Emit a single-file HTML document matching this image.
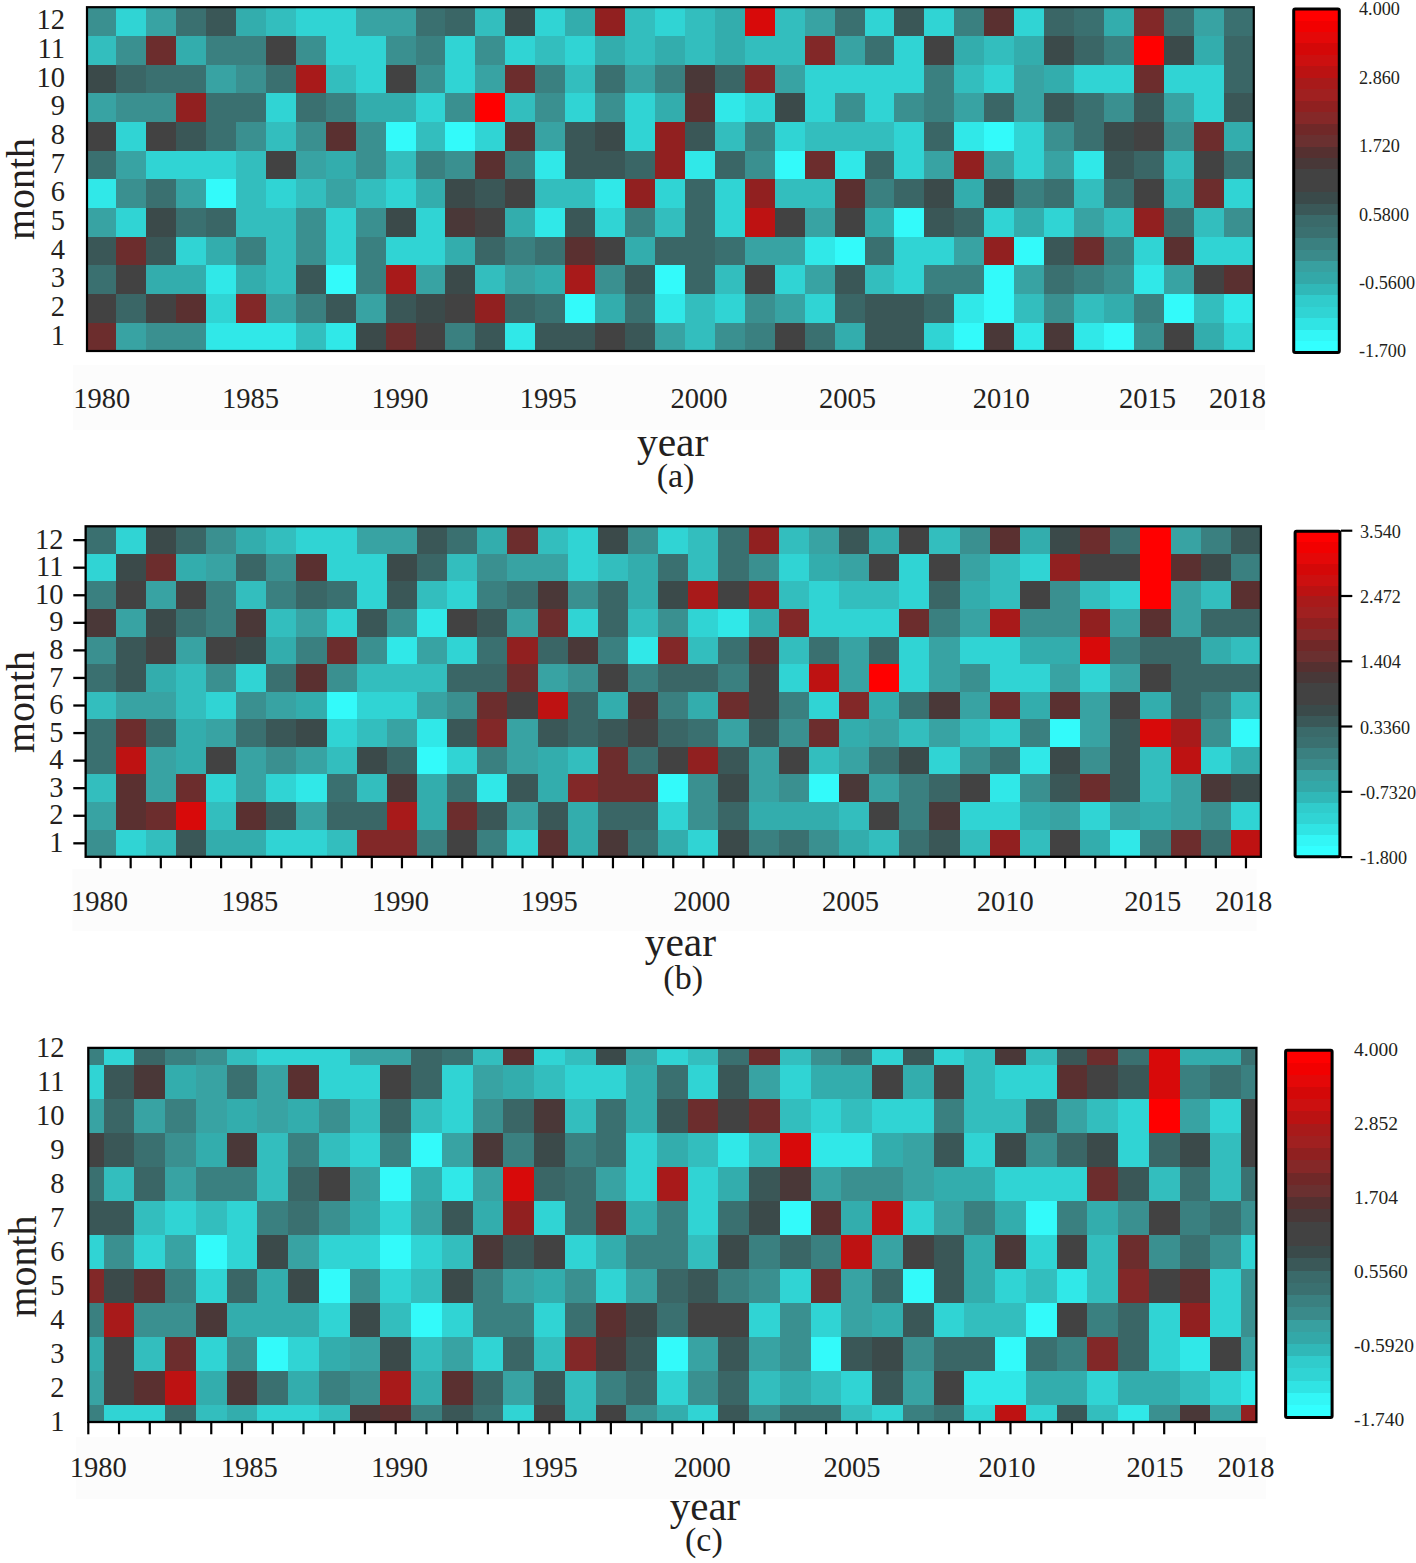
<!DOCTYPE html>
<html><head><meta charset="utf-8"><style>html,body{margin:0;padding:0;background:#fff;}body{width:1416px;height:1563px;overflow:hidden;font-family:"Liberation Serif",serif;}svg{display:block;}</style></head><body>
<svg width="1416" height="1563" viewBox="0 0 1416 1563" font-family="'Liberation Serif', serif" fill="#231f20">
<rect width="1416" height="1563" fill="#fff"/>
<rect x="73" y="365" width="1192" height="65" fill="#fcfcfc"/>
<rect x="72.5" y="869" width="1184" height="62" fill="#fcfcfc"/>
<rect x="76" y="1437" width="1190" height="62" fill="#fcfcfc"/>
<g shape-rendering="crispEdges">
<rect x="86.3" y="7.2" width="29.93" height="28.67" fill="#3a9090"/>
<rect x="116.23" y="7.2" width="29.93" height="28.67" fill="#30d4d4"/>
<rect x="146.16" y="7.2" width="29.93" height="28.67" fill="#38a3a3"/>
<rect x="176.09" y="7.2" width="29.93" height="28.67" fill="#3a7070"/>
<rect x="206.02" y="7.2" width="29.93" height="28.67" fill="#3a5757"/>
<rect x="235.95" y="7.2" width="29.93" height="28.67" fill="#33adad"/>
<rect x="265.88" y="7.2" width="29.93" height="28.67" fill="#33bebe"/>
<rect x="295.82" y="7.2" width="59.86" height="28.67" fill="#30d4d4"/>
<rect x="355.68" y="7.2" width="59.86" height="28.67" fill="#38a3a3"/>
<rect x="415.54" y="7.2" width="29.93" height="28.67" fill="#3a7070"/>
<rect x="445.47" y="7.2" width="29.93" height="28.67" fill="#3a6666"/>
<rect x="475.4" y="7.2" width="29.93" height="28.67" fill="#33bebe"/>
<rect x="505.33" y="7.2" width="29.93" height="28.67" fill="#3b4a4a"/>
<rect x="535.26" y="7.2" width="29.93" height="28.67" fill="#30d4d4"/>
<rect x="565.19" y="7.2" width="29.93" height="28.67" fill="#33adad"/>
<rect x="595.12" y="7.2" width="29.93" height="28.67" fill="#912020"/>
<rect x="625.05" y="7.2" width="29.93" height="28.67" fill="#33bebe"/>
<rect x="654.98" y="7.2" width="29.93" height="28.67" fill="#30d4d4"/>
<rect x="684.92" y="7.2" width="29.93" height="28.67" fill="#33bebe"/>
<rect x="714.85" y="7.2" width="29.93" height="28.67" fill="#33adad"/>
<rect x="744.78" y="7.2" width="29.93" height="28.67" fill="#d80a0a"/>
<rect x="774.71" y="7.2" width="29.93" height="28.67" fill="#33bebe"/>
<rect x="804.64" y="7.2" width="29.93" height="28.67" fill="#38a3a3"/>
<rect x="834.57" y="7.2" width="29.93" height="28.67" fill="#3a7070"/>
<rect x="864.5" y="7.2" width="29.93" height="28.67" fill="#30d4d4"/>
<rect x="894.43" y="7.2" width="29.93" height="28.67" fill="#3a5757"/>
<rect x="924.36" y="7.2" width="29.93" height="28.67" fill="#30d4d4"/>
<rect x="954.29" y="7.2" width="29.93" height="28.67" fill="#3a8080"/>
<rect x="984.22" y="7.2" width="29.93" height="28.67" fill="#5a3030"/>
<rect x="1014.15" y="7.2" width="29.93" height="28.67" fill="#30d4d4"/>
<rect x="1044.08" y="7.2" width="29.93" height="28.67" fill="#3a6666"/>
<rect x="1074.02" y="7.2" width="29.93" height="28.67" fill="#3a7070"/>
<rect x="1103.95" y="7.2" width="29.93" height="28.67" fill="#33adad"/>
<rect x="1133.88" y="7.2" width="29.93" height="28.67" fill="#822828"/>
<rect x="1163.81" y="7.2" width="29.93" height="28.67" fill="#3a7070"/>
<rect x="1193.74" y="7.2" width="29.93" height="28.67" fill="#38a3a3"/>
<rect x="1223.67" y="7.2" width="29.93" height="28.67" fill="#3a7070"/>
<rect x="86.3" y="35.87" width="29.93" height="28.67" fill="#33bebe"/>
<rect x="116.23" y="35.87" width="29.93" height="28.67" fill="#3a9090"/>
<rect x="146.16" y="35.87" width="29.93" height="28.67" fill="#6c2d2d"/>
<rect x="176.09" y="35.87" width="29.93" height="28.67" fill="#33adad"/>
<rect x="206.02" y="35.87" width="59.86" height="28.67" fill="#3a8080"/>
<rect x="265.88" y="35.87" width="29.93" height="28.67" fill="#424242"/>
<rect x="295.82" y="35.87" width="29.93" height="28.67" fill="#3a9090"/>
<rect x="325.75" y="35.87" width="59.86" height="28.67" fill="#30d4d4"/>
<rect x="385.61" y="35.87" width="29.93" height="28.67" fill="#3a9090"/>
<rect x="415.54" y="35.87" width="29.93" height="28.67" fill="#3a8080"/>
<rect x="445.47" y="35.87" width="29.93" height="28.67" fill="#30d4d4"/>
<rect x="475.4" y="35.87" width="29.93" height="28.67" fill="#3a9090"/>
<rect x="505.33" y="35.87" width="29.93" height="28.67" fill="#30d4d4"/>
<rect x="535.26" y="35.87" width="29.93" height="28.67" fill="#33bebe"/>
<rect x="565.19" y="35.87" width="29.93" height="28.67" fill="#30d4d4"/>
<rect x="595.12" y="35.87" width="29.93" height="28.67" fill="#33adad"/>
<rect x="625.05" y="35.87" width="29.93" height="28.67" fill="#33bebe"/>
<rect x="654.98" y="35.87" width="29.93" height="28.67" fill="#33adad"/>
<rect x="684.92" y="35.87" width="29.93" height="28.67" fill="#33bebe"/>
<rect x="714.85" y="35.87" width="29.93" height="28.67" fill="#33adad"/>
<rect x="744.78" y="35.87" width="59.86" height="28.67" fill="#33bebe"/>
<rect x="804.64" y="35.87" width="29.93" height="28.67" fill="#822828"/>
<rect x="834.57" y="35.87" width="29.93" height="28.67" fill="#38a3a3"/>
<rect x="864.5" y="35.87" width="29.93" height="28.67" fill="#3a7070"/>
<rect x="894.43" y="35.87" width="29.93" height="28.67" fill="#30d4d4"/>
<rect x="924.36" y="35.87" width="29.93" height="28.67" fill="#424242"/>
<rect x="954.29" y="35.87" width="29.93" height="28.67" fill="#33adad"/>
<rect x="984.22" y="35.87" width="29.93" height="28.67" fill="#33bebe"/>
<rect x="1014.15" y="35.87" width="29.93" height="28.67" fill="#33adad"/>
<rect x="1044.08" y="35.87" width="29.93" height="28.67" fill="#3b4a4a"/>
<rect x="1074.02" y="35.87" width="29.93" height="28.67" fill="#3a6666"/>
<rect x="1103.95" y="35.87" width="29.93" height="28.67" fill="#3a8080"/>
<rect x="1133.88" y="35.87" width="29.93" height="28.67" fill="#ff0000"/>
<rect x="1163.81" y="35.87" width="29.93" height="28.67" fill="#3b4a4a"/>
<rect x="1193.74" y="35.87" width="29.93" height="28.67" fill="#33adad"/>
<rect x="1223.67" y="35.87" width="29.93" height="28.67" fill="#3a6666"/>
<rect x="86.3" y="64.53" width="29.93" height="28.67" fill="#3b4a4a"/>
<rect x="116.23" y="64.53" width="29.93" height="28.67" fill="#3a6666"/>
<rect x="146.16" y="64.53" width="59.86" height="28.67" fill="#3a7070"/>
<rect x="206.02" y="64.53" width="29.93" height="28.67" fill="#38a3a3"/>
<rect x="235.95" y="64.53" width="29.93" height="28.67" fill="#3a9090"/>
<rect x="265.88" y="64.53" width="29.93" height="28.67" fill="#3a7070"/>
<rect x="295.82" y="64.53" width="29.93" height="28.67" fill="#a81a1a"/>
<rect x="325.75" y="64.53" width="29.93" height="28.67" fill="#33bebe"/>
<rect x="355.68" y="64.53" width="29.93" height="28.67" fill="#30d4d4"/>
<rect x="385.61" y="64.53" width="29.93" height="28.67" fill="#424242"/>
<rect x="415.54" y="64.53" width="29.93" height="28.67" fill="#3a9090"/>
<rect x="445.47" y="64.53" width="29.93" height="28.67" fill="#30d4d4"/>
<rect x="475.4" y="64.53" width="29.93" height="28.67" fill="#38a3a3"/>
<rect x="505.33" y="64.53" width="29.93" height="28.67" fill="#6c2d2d"/>
<rect x="535.26" y="64.53" width="29.93" height="28.67" fill="#3a8080"/>
<rect x="565.19" y="64.53" width="29.93" height="28.67" fill="#33bebe"/>
<rect x="595.12" y="64.53" width="29.93" height="28.67" fill="#3a7070"/>
<rect x="625.05" y="64.53" width="29.93" height="28.67" fill="#38a3a3"/>
<rect x="654.98" y="64.53" width="29.93" height="28.67" fill="#3a8080"/>
<rect x="684.92" y="64.53" width="29.93" height="28.67" fill="#4a3838"/>
<rect x="714.85" y="64.53" width="29.93" height="28.67" fill="#3a6666"/>
<rect x="744.78" y="64.53" width="29.93" height="28.67" fill="#822828"/>
<rect x="774.71" y="64.53" width="29.93" height="28.67" fill="#38a3a3"/>
<rect x="804.64" y="64.53" width="119.72" height="28.67" fill="#30d4d4"/>
<rect x="924.36" y="64.53" width="29.93" height="28.67" fill="#3a8080"/>
<rect x="954.29" y="64.53" width="29.93" height="28.67" fill="#33bebe"/>
<rect x="984.22" y="64.53" width="29.93" height="28.67" fill="#30d4d4"/>
<rect x="1014.15" y="64.53" width="29.93" height="28.67" fill="#38a3a3"/>
<rect x="1044.08" y="64.53" width="29.93" height="28.67" fill="#33adad"/>
<rect x="1074.02" y="64.53" width="59.86" height="28.67" fill="#30d4d4"/>
<rect x="1133.88" y="64.53" width="29.93" height="28.67" fill="#6c2d2d"/>
<rect x="1163.81" y="64.53" width="59.86" height="28.67" fill="#30d4d4"/>
<rect x="1223.67" y="64.53" width="29.93" height="28.67" fill="#3a6666"/>
<rect x="86.3" y="93.2" width="29.93" height="28.67" fill="#38a3a3"/>
<rect x="116.23" y="93.2" width="59.86" height="28.67" fill="#3a9090"/>
<rect x="176.09" y="93.2" width="29.93" height="28.67" fill="#912020"/>
<rect x="206.02" y="93.2" width="59.86" height="28.67" fill="#3a7070"/>
<rect x="265.88" y="93.2" width="29.93" height="28.67" fill="#30d4d4"/>
<rect x="295.82" y="93.2" width="29.93" height="28.67" fill="#3a7070"/>
<rect x="325.75" y="93.2" width="29.93" height="28.67" fill="#3a8080"/>
<rect x="355.68" y="93.2" width="59.86" height="28.67" fill="#33adad"/>
<rect x="415.54" y="93.2" width="29.93" height="28.67" fill="#30d4d4"/>
<rect x="445.47" y="93.2" width="29.93" height="28.67" fill="#3a9090"/>
<rect x="475.4" y="93.2" width="29.93" height="28.67" fill="#ff0000"/>
<rect x="505.33" y="93.2" width="29.93" height="28.67" fill="#33bebe"/>
<rect x="535.26" y="93.2" width="29.93" height="28.67" fill="#3a9090"/>
<rect x="565.19" y="93.2" width="29.93" height="28.67" fill="#30d4d4"/>
<rect x="595.12" y="93.2" width="29.93" height="28.67" fill="#3a9090"/>
<rect x="625.05" y="93.2" width="29.93" height="28.67" fill="#30d4d4"/>
<rect x="654.98" y="93.2" width="29.93" height="28.67" fill="#33adad"/>
<rect x="684.92" y="93.2" width="29.93" height="28.67" fill="#5a3030"/>
<rect x="714.85" y="93.2" width="29.93" height="28.67" fill="#30e8e8"/>
<rect x="744.78" y="93.2" width="29.93" height="28.67" fill="#30d4d4"/>
<rect x="774.71" y="93.2" width="29.93" height="28.67" fill="#3b4a4a"/>
<rect x="804.64" y="93.2" width="29.93" height="28.67" fill="#30d4d4"/>
<rect x="834.57" y="93.2" width="29.93" height="28.67" fill="#3a9090"/>
<rect x="864.5" y="93.2" width="29.93" height="28.67" fill="#30d4d4"/>
<rect x="894.43" y="93.2" width="29.93" height="28.67" fill="#3a9090"/>
<rect x="924.36" y="93.2" width="29.93" height="28.67" fill="#3a8080"/>
<rect x="954.29" y="93.2" width="29.93" height="28.67" fill="#38a3a3"/>
<rect x="984.22" y="93.2" width="29.93" height="28.67" fill="#3a6666"/>
<rect x="1014.15" y="93.2" width="29.93" height="28.67" fill="#38a3a3"/>
<rect x="1044.08" y="93.2" width="29.93" height="28.67" fill="#3a5757"/>
<rect x="1074.02" y="93.2" width="29.93" height="28.67" fill="#3a7070"/>
<rect x="1103.95" y="93.2" width="29.93" height="28.67" fill="#3a9090"/>
<rect x="1133.88" y="93.2" width="29.93" height="28.67" fill="#3a5757"/>
<rect x="1163.81" y="93.2" width="29.93" height="28.67" fill="#38a3a3"/>
<rect x="1193.74" y="93.2" width="29.93" height="28.67" fill="#30d4d4"/>
<rect x="1223.67" y="93.2" width="29.93" height="28.67" fill="#3a5757"/>
<rect x="86.3" y="121.87" width="29.93" height="28.67" fill="#424242"/>
<rect x="116.23" y="121.87" width="29.93" height="28.67" fill="#30d4d4"/>
<rect x="146.16" y="121.87" width="29.93" height="28.67" fill="#424242"/>
<rect x="176.09" y="121.87" width="29.93" height="28.67" fill="#3a5757"/>
<rect x="206.02" y="121.87" width="29.93" height="28.67" fill="#3a7070"/>
<rect x="235.95" y="121.87" width="29.93" height="28.67" fill="#3a9090"/>
<rect x="265.88" y="121.87" width="29.93" height="28.67" fill="#33bebe"/>
<rect x="295.82" y="121.87" width="29.93" height="28.67" fill="#3a9090"/>
<rect x="325.75" y="121.87" width="29.93" height="28.67" fill="#5a3030"/>
<rect x="355.68" y="121.87" width="29.93" height="28.67" fill="#3a9090"/>
<rect x="385.61" y="121.87" width="29.93" height="28.67" fill="#33fafa"/>
<rect x="415.54" y="121.87" width="29.93" height="28.67" fill="#33bebe"/>
<rect x="445.47" y="121.87" width="29.93" height="28.67" fill="#33fafa"/>
<rect x="475.4" y="121.87" width="29.93" height="28.67" fill="#30d4d4"/>
<rect x="505.33" y="121.87" width="29.93" height="28.67" fill="#5a3030"/>
<rect x="535.26" y="121.87" width="29.93" height="28.67" fill="#38a3a3"/>
<rect x="565.19" y="121.87" width="29.93" height="28.67" fill="#3a5757"/>
<rect x="595.12" y="121.87" width="29.93" height="28.67" fill="#3b4a4a"/>
<rect x="625.05" y="121.87" width="29.93" height="28.67" fill="#30d4d4"/>
<rect x="654.98" y="121.87" width="29.93" height="28.67" fill="#912020"/>
<rect x="684.92" y="121.87" width="29.93" height="28.67" fill="#3a5757"/>
<rect x="714.85" y="121.87" width="29.93" height="28.67" fill="#33bebe"/>
<rect x="744.78" y="121.87" width="29.93" height="28.67" fill="#3a8080"/>
<rect x="774.71" y="121.87" width="29.93" height="28.67" fill="#30d4d4"/>
<rect x="804.64" y="121.87" width="89.79" height="28.67" fill="#33bebe"/>
<rect x="894.43" y="121.87" width="29.93" height="28.67" fill="#30d4d4"/>
<rect x="924.36" y="121.87" width="29.93" height="28.67" fill="#3a6666"/>
<rect x="954.29" y="121.87" width="29.93" height="28.67" fill="#30e8e8"/>
<rect x="984.22" y="121.87" width="29.93" height="28.67" fill="#33fafa"/>
<rect x="1014.15" y="121.87" width="29.93" height="28.67" fill="#30d4d4"/>
<rect x="1044.08" y="121.87" width="29.93" height="28.67" fill="#3a9090"/>
<rect x="1074.02" y="121.87" width="29.93" height="28.67" fill="#3a7070"/>
<rect x="1103.95" y="121.87" width="29.93" height="28.67" fill="#3b4a4a"/>
<rect x="1133.88" y="121.87" width="29.93" height="28.67" fill="#424242"/>
<rect x="1163.81" y="121.87" width="29.93" height="28.67" fill="#3a9090"/>
<rect x="1193.74" y="121.87" width="29.93" height="28.67" fill="#6c2d2d"/>
<rect x="1223.67" y="121.87" width="29.93" height="28.67" fill="#33adad"/>
<rect x="86.3" y="150.53" width="29.93" height="28.67" fill="#3a7070"/>
<rect x="116.23" y="150.53" width="29.93" height="28.67" fill="#38a3a3"/>
<rect x="146.16" y="150.53" width="89.79" height="28.67" fill="#30d4d4"/>
<rect x="235.95" y="150.53" width="29.93" height="28.67" fill="#33bebe"/>
<rect x="265.88" y="150.53" width="29.93" height="28.67" fill="#424242"/>
<rect x="295.82" y="150.53" width="29.93" height="28.67" fill="#38a3a3"/>
<rect x="325.75" y="150.53" width="29.93" height="28.67" fill="#33adad"/>
<rect x="355.68" y="150.53" width="29.93" height="28.67" fill="#3a9090"/>
<rect x="385.61" y="150.53" width="29.93" height="28.67" fill="#33bebe"/>
<rect x="415.54" y="150.53" width="29.93" height="28.67" fill="#3a8080"/>
<rect x="445.47" y="150.53" width="29.93" height="28.67" fill="#3a9090"/>
<rect x="475.4" y="150.53" width="29.93" height="28.67" fill="#5a3030"/>
<rect x="505.33" y="150.53" width="29.93" height="28.67" fill="#3a8080"/>
<rect x="535.26" y="150.53" width="29.93" height="28.67" fill="#30e8e8"/>
<rect x="565.19" y="150.53" width="59.86" height="28.67" fill="#3a5757"/>
<rect x="625.05" y="150.53" width="29.93" height="28.67" fill="#3a6666"/>
<rect x="654.98" y="150.53" width="29.93" height="28.67" fill="#912020"/>
<rect x="684.92" y="150.53" width="29.93" height="28.67" fill="#30e8e8"/>
<rect x="714.85" y="150.53" width="29.93" height="28.67" fill="#3a6666"/>
<rect x="744.78" y="150.53" width="29.93" height="28.67" fill="#3a9090"/>
<rect x="774.71" y="150.53" width="29.93" height="28.67" fill="#33fafa"/>
<rect x="804.64" y="150.53" width="29.93" height="28.67" fill="#6c2d2d"/>
<rect x="834.57" y="150.53" width="29.93" height="28.67" fill="#30e8e8"/>
<rect x="864.5" y="150.53" width="29.93" height="28.67" fill="#3a6666"/>
<rect x="894.43" y="150.53" width="29.93" height="28.67" fill="#30d4d4"/>
<rect x="924.36" y="150.53" width="29.93" height="28.67" fill="#38a3a3"/>
<rect x="954.29" y="150.53" width="29.93" height="28.67" fill="#912020"/>
<rect x="984.22" y="150.53" width="29.93" height="28.67" fill="#38a3a3"/>
<rect x="1014.15" y="150.53" width="29.93" height="28.67" fill="#30d4d4"/>
<rect x="1044.08" y="150.53" width="29.93" height="28.67" fill="#38a3a3"/>
<rect x="1074.02" y="150.53" width="29.93" height="28.67" fill="#30e8e8"/>
<rect x="1103.95" y="150.53" width="29.93" height="28.67" fill="#3a5757"/>
<rect x="1133.88" y="150.53" width="29.93" height="28.67" fill="#3a6666"/>
<rect x="1163.81" y="150.53" width="29.93" height="28.67" fill="#33bebe"/>
<rect x="1193.74" y="150.53" width="29.93" height="28.67" fill="#424242"/>
<rect x="1223.67" y="150.53" width="29.93" height="28.67" fill="#3a7070"/>
<rect x="86.3" y="179.2" width="29.93" height="28.67" fill="#30e8e8"/>
<rect x="116.23" y="179.2" width="29.93" height="28.67" fill="#3a9090"/>
<rect x="146.16" y="179.2" width="29.93" height="28.67" fill="#3a7070"/>
<rect x="176.09" y="179.2" width="29.93" height="28.67" fill="#38a3a3"/>
<rect x="206.02" y="179.2" width="29.93" height="28.67" fill="#33fafa"/>
<rect x="235.95" y="179.2" width="29.93" height="28.67" fill="#33bebe"/>
<rect x="265.88" y="179.2" width="29.93" height="28.67" fill="#30d4d4"/>
<rect x="295.82" y="179.2" width="29.93" height="28.67" fill="#33bebe"/>
<rect x="325.75" y="179.2" width="29.93" height="28.67" fill="#38a3a3"/>
<rect x="355.68" y="179.2" width="29.93" height="28.67" fill="#33bebe"/>
<rect x="385.61" y="179.2" width="29.93" height="28.67" fill="#30d4d4"/>
<rect x="415.54" y="179.2" width="29.93" height="28.67" fill="#33adad"/>
<rect x="445.47" y="179.2" width="29.93" height="28.67" fill="#3b4a4a"/>
<rect x="475.4" y="179.2" width="29.93" height="28.67" fill="#3a5757"/>
<rect x="505.33" y="179.2" width="29.93" height="28.67" fill="#424242"/>
<rect x="535.26" y="179.2" width="59.86" height="28.67" fill="#33bebe"/>
<rect x="595.12" y="179.2" width="29.93" height="28.67" fill="#30e8e8"/>
<rect x="625.05" y="179.2" width="29.93" height="28.67" fill="#912020"/>
<rect x="654.98" y="179.2" width="29.93" height="28.67" fill="#30d4d4"/>
<rect x="684.92" y="179.2" width="29.93" height="28.67" fill="#3a6666"/>
<rect x="714.85" y="179.2" width="29.93" height="28.67" fill="#30d4d4"/>
<rect x="744.78" y="179.2" width="29.93" height="28.67" fill="#912020"/>
<rect x="774.71" y="179.2" width="59.86" height="28.67" fill="#33bebe"/>
<rect x="834.57" y="179.2" width="29.93" height="28.67" fill="#5a3030"/>
<rect x="864.5" y="179.2" width="29.93" height="28.67" fill="#3a8080"/>
<rect x="894.43" y="179.2" width="29.93" height="28.67" fill="#3a6666"/>
<rect x="924.36" y="179.2" width="29.93" height="28.67" fill="#3b4a4a"/>
<rect x="954.29" y="179.2" width="29.93" height="28.67" fill="#33adad"/>
<rect x="984.22" y="179.2" width="29.93" height="28.67" fill="#3b4a4a"/>
<rect x="1014.15" y="179.2" width="29.93" height="28.67" fill="#3a8080"/>
<rect x="1044.08" y="179.2" width="29.93" height="28.67" fill="#3a7070"/>
<rect x="1074.02" y="179.2" width="29.93" height="28.67" fill="#33bebe"/>
<rect x="1103.95" y="179.2" width="29.93" height="28.67" fill="#3a7070"/>
<rect x="1133.88" y="179.2" width="29.93" height="28.67" fill="#424242"/>
<rect x="1163.81" y="179.2" width="29.93" height="28.67" fill="#33adad"/>
<rect x="1193.74" y="179.2" width="29.93" height="28.67" fill="#6c2d2d"/>
<rect x="1223.67" y="179.2" width="29.93" height="28.67" fill="#30d4d4"/>
<rect x="86.3" y="207.87" width="29.93" height="28.67" fill="#38a3a3"/>
<rect x="116.23" y="207.87" width="29.93" height="28.67" fill="#30d4d4"/>
<rect x="146.16" y="207.87" width="29.93" height="28.67" fill="#3b4a4a"/>
<rect x="176.09" y="207.87" width="29.93" height="28.67" fill="#3a7070"/>
<rect x="206.02" y="207.87" width="29.93" height="28.67" fill="#3a6666"/>
<rect x="235.95" y="207.87" width="59.86" height="28.67" fill="#33bebe"/>
<rect x="295.82" y="207.87" width="29.93" height="28.67" fill="#3a9090"/>
<rect x="325.75" y="207.87" width="29.93" height="28.67" fill="#30d4d4"/>
<rect x="355.68" y="207.87" width="29.93" height="28.67" fill="#3a9090"/>
<rect x="385.61" y="207.87" width="29.93" height="28.67" fill="#3b4a4a"/>
<rect x="415.54" y="207.87" width="29.93" height="28.67" fill="#30d4d4"/>
<rect x="445.47" y="207.87" width="29.93" height="28.67" fill="#4a3838"/>
<rect x="475.4" y="207.87" width="29.93" height="28.67" fill="#424242"/>
<rect x="505.33" y="207.87" width="29.93" height="28.67" fill="#33adad"/>
<rect x="535.26" y="207.87" width="29.93" height="28.67" fill="#30e8e8"/>
<rect x="565.19" y="207.87" width="29.93" height="28.67" fill="#3a5757"/>
<rect x="595.12" y="207.87" width="29.93" height="28.67" fill="#30d4d4"/>
<rect x="625.05" y="207.87" width="29.93" height="28.67" fill="#3a8080"/>
<rect x="654.98" y="207.87" width="29.93" height="28.67" fill="#33bebe"/>
<rect x="684.92" y="207.87" width="29.93" height="28.67" fill="#3a6666"/>
<rect x="714.85" y="207.87" width="29.93" height="28.67" fill="#30d4d4"/>
<rect x="744.78" y="207.87" width="29.93" height="28.67" fill="#be1212"/>
<rect x="774.71" y="207.87" width="29.93" height="28.67" fill="#424242"/>
<rect x="804.64" y="207.87" width="29.93" height="28.67" fill="#38a3a3"/>
<rect x="834.57" y="207.87" width="29.93" height="28.67" fill="#424242"/>
<rect x="864.5" y="207.87" width="29.93" height="28.67" fill="#33adad"/>
<rect x="894.43" y="207.87" width="29.93" height="28.67" fill="#33fafa"/>
<rect x="924.36" y="207.87" width="29.93" height="28.67" fill="#3a5757"/>
<rect x="954.29" y="207.87" width="29.93" height="28.67" fill="#3a6666"/>
<rect x="984.22" y="207.87" width="29.93" height="28.67" fill="#30d4d4"/>
<rect x="1014.15" y="207.87" width="29.93" height="28.67" fill="#33adad"/>
<rect x="1044.08" y="207.87" width="29.93" height="28.67" fill="#30d4d4"/>
<rect x="1074.02" y="207.87" width="29.93" height="28.67" fill="#38a3a3"/>
<rect x="1103.95" y="207.87" width="29.93" height="28.67" fill="#33bebe"/>
<rect x="1133.88" y="207.87" width="29.93" height="28.67" fill="#912020"/>
<rect x="1163.81" y="207.87" width="29.93" height="28.67" fill="#3a7070"/>
<rect x="1193.74" y="207.87" width="29.93" height="28.67" fill="#33bebe"/>
<rect x="1223.67" y="207.87" width="29.93" height="28.67" fill="#3a9090"/>
<rect x="86.3" y="236.53" width="29.93" height="28.67" fill="#3a5757"/>
<rect x="116.23" y="236.53" width="29.93" height="28.67" fill="#6c2d2d"/>
<rect x="146.16" y="236.53" width="29.93" height="28.67" fill="#3a5757"/>
<rect x="176.09" y="236.53" width="29.93" height="28.67" fill="#30d4d4"/>
<rect x="206.02" y="236.53" width="29.93" height="28.67" fill="#33adad"/>
<rect x="235.95" y="236.53" width="29.93" height="28.67" fill="#3a8080"/>
<rect x="265.88" y="236.53" width="29.93" height="28.67" fill="#33bebe"/>
<rect x="295.82" y="236.53" width="29.93" height="28.67" fill="#3a9090"/>
<rect x="325.75" y="236.53" width="29.93" height="28.67" fill="#30d4d4"/>
<rect x="355.68" y="236.53" width="29.93" height="28.67" fill="#3a8080"/>
<rect x="385.61" y="236.53" width="59.86" height="28.67" fill="#30d4d4"/>
<rect x="445.47" y="236.53" width="29.93" height="28.67" fill="#33adad"/>
<rect x="475.4" y="236.53" width="29.93" height="28.67" fill="#3a6666"/>
<rect x="505.33" y="236.53" width="29.93" height="28.67" fill="#3a8080"/>
<rect x="535.26" y="236.53" width="29.93" height="28.67" fill="#3a7070"/>
<rect x="565.19" y="236.53" width="29.93" height="28.67" fill="#5a3030"/>
<rect x="595.12" y="236.53" width="29.93" height="28.67" fill="#424242"/>
<rect x="625.05" y="236.53" width="29.93" height="28.67" fill="#33adad"/>
<rect x="654.98" y="236.53" width="59.86" height="28.67" fill="#3a6666"/>
<rect x="714.85" y="236.53" width="29.93" height="28.67" fill="#3a7070"/>
<rect x="744.78" y="236.53" width="59.86" height="28.67" fill="#38a3a3"/>
<rect x="804.64" y="236.53" width="29.93" height="28.67" fill="#30e8e8"/>
<rect x="834.57" y="236.53" width="29.93" height="28.67" fill="#33fafa"/>
<rect x="864.5" y="236.53" width="29.93" height="28.67" fill="#3a7070"/>
<rect x="894.43" y="236.53" width="59.86" height="28.67" fill="#30d4d4"/>
<rect x="954.29" y="236.53" width="29.93" height="28.67" fill="#38a3a3"/>
<rect x="984.22" y="236.53" width="29.93" height="28.67" fill="#912020"/>
<rect x="1014.15" y="236.53" width="29.93" height="28.67" fill="#33fafa"/>
<rect x="1044.08" y="236.53" width="29.93" height="28.67" fill="#3a5757"/>
<rect x="1074.02" y="236.53" width="29.93" height="28.67" fill="#6c2d2d"/>
<rect x="1103.95" y="236.53" width="29.93" height="28.67" fill="#3a8080"/>
<rect x="1133.88" y="236.53" width="29.93" height="28.67" fill="#30d4d4"/>
<rect x="1163.81" y="236.53" width="29.93" height="28.67" fill="#5a3030"/>
<rect x="1193.74" y="236.53" width="59.86" height="28.67" fill="#30d4d4"/>
<rect x="86.3" y="265.2" width="29.93" height="28.67" fill="#3a7070"/>
<rect x="116.23" y="265.2" width="29.93" height="28.67" fill="#424242"/>
<rect x="146.16" y="265.2" width="59.86" height="28.67" fill="#33adad"/>
<rect x="206.02" y="265.2" width="29.93" height="28.67" fill="#30e8e8"/>
<rect x="235.95" y="265.2" width="29.93" height="28.67" fill="#33adad"/>
<rect x="265.88" y="265.2" width="29.93" height="28.67" fill="#33bebe"/>
<rect x="295.82" y="265.2" width="29.93" height="28.67" fill="#3a5757"/>
<rect x="325.75" y="265.2" width="29.93" height="28.67" fill="#33fafa"/>
<rect x="355.68" y="265.2" width="29.93" height="28.67" fill="#3a8080"/>
<rect x="385.61" y="265.2" width="29.93" height="28.67" fill="#a81a1a"/>
<rect x="415.54" y="265.2" width="29.93" height="28.67" fill="#38a3a3"/>
<rect x="445.47" y="265.2" width="29.93" height="28.67" fill="#3b4a4a"/>
<rect x="475.4" y="265.2" width="29.93" height="28.67" fill="#33bebe"/>
<rect x="505.33" y="265.2" width="29.93" height="28.67" fill="#38a3a3"/>
<rect x="535.26" y="265.2" width="29.93" height="28.67" fill="#33adad"/>
<rect x="565.19" y="265.2" width="29.93" height="28.67" fill="#a81a1a"/>
<rect x="595.12" y="265.2" width="29.93" height="28.67" fill="#3a9090"/>
<rect x="625.05" y="265.2" width="29.93" height="28.67" fill="#3a5757"/>
<rect x="654.98" y="265.2" width="29.93" height="28.67" fill="#33fafa"/>
<rect x="684.92" y="265.2" width="29.93" height="28.67" fill="#3a6666"/>
<rect x="714.85" y="265.2" width="29.93" height="28.67" fill="#33bebe"/>
<rect x="744.78" y="265.2" width="29.93" height="28.67" fill="#424242"/>
<rect x="774.71" y="265.2" width="29.93" height="28.67" fill="#30d4d4"/>
<rect x="804.64" y="265.2" width="29.93" height="28.67" fill="#38a3a3"/>
<rect x="834.57" y="265.2" width="29.93" height="28.67" fill="#3a5757"/>
<rect x="864.5" y="265.2" width="29.93" height="28.67" fill="#33bebe"/>
<rect x="894.43" y="265.2" width="29.93" height="28.67" fill="#30d4d4"/>
<rect x="924.36" y="265.2" width="59.86" height="28.67" fill="#3a8080"/>
<rect x="984.22" y="265.2" width="29.93" height="28.67" fill="#33fafa"/>
<rect x="1014.15" y="265.2" width="29.93" height="28.67" fill="#38a3a3"/>
<rect x="1044.08" y="265.2" width="29.93" height="28.67" fill="#3a7070"/>
<rect x="1074.02" y="265.2" width="29.93" height="28.67" fill="#3a8080"/>
<rect x="1103.95" y="265.2" width="29.93" height="28.67" fill="#3a9090"/>
<rect x="1133.88" y="265.2" width="29.93" height="28.67" fill="#30e8e8"/>
<rect x="1163.81" y="265.2" width="29.93" height="28.67" fill="#38a3a3"/>
<rect x="1193.74" y="265.2" width="29.93" height="28.67" fill="#424242"/>
<rect x="1223.67" y="265.2" width="29.93" height="28.67" fill="#5a3030"/>
<rect x="86.3" y="293.87" width="29.93" height="28.67" fill="#424242"/>
<rect x="116.23" y="293.87" width="29.93" height="28.67" fill="#3a6666"/>
<rect x="146.16" y="293.87" width="29.93" height="28.67" fill="#424242"/>
<rect x="176.09" y="293.87" width="29.93" height="28.67" fill="#5a3030"/>
<rect x="206.02" y="293.87" width="29.93" height="28.67" fill="#30d4d4"/>
<rect x="235.95" y="293.87" width="29.93" height="28.67" fill="#822828"/>
<rect x="265.88" y="293.87" width="29.93" height="28.67" fill="#38a3a3"/>
<rect x="295.82" y="293.87" width="29.93" height="28.67" fill="#3a8080"/>
<rect x="325.75" y="293.87" width="29.93" height="28.67" fill="#3a5757"/>
<rect x="355.68" y="293.87" width="29.93" height="28.67" fill="#38a3a3"/>
<rect x="385.61" y="293.87" width="29.93" height="28.67" fill="#3a5757"/>
<rect x="415.54" y="293.87" width="29.93" height="28.67" fill="#3b4a4a"/>
<rect x="445.47" y="293.87" width="29.93" height="28.67" fill="#424242"/>
<rect x="475.4" y="293.87" width="29.93" height="28.67" fill="#912020"/>
<rect x="505.33" y="293.87" width="29.93" height="28.67" fill="#3a6666"/>
<rect x="535.26" y="293.87" width="29.93" height="28.67" fill="#3a7070"/>
<rect x="565.19" y="293.87" width="29.93" height="28.67" fill="#33fafa"/>
<rect x="595.12" y="293.87" width="29.93" height="28.67" fill="#33adad"/>
<rect x="625.05" y="293.87" width="29.93" height="28.67" fill="#3a7070"/>
<rect x="654.98" y="293.87" width="29.93" height="28.67" fill="#30e8e8"/>
<rect x="684.92" y="293.87" width="29.93" height="28.67" fill="#33bebe"/>
<rect x="714.85" y="293.87" width="29.93" height="28.67" fill="#30d4d4"/>
<rect x="744.78" y="293.87" width="29.93" height="28.67" fill="#3a9090"/>
<rect x="774.71" y="293.87" width="29.93" height="28.67" fill="#38a3a3"/>
<rect x="804.64" y="293.87" width="29.93" height="28.67" fill="#30d4d4"/>
<rect x="834.57" y="293.87" width="29.93" height="28.67" fill="#3a6666"/>
<rect x="864.5" y="293.87" width="59.86" height="28.67" fill="#3a5757"/>
<rect x="924.36" y="293.87" width="29.93" height="28.67" fill="#3a6666"/>
<rect x="954.29" y="293.87" width="29.93" height="28.67" fill="#30e8e8"/>
<rect x="984.22" y="293.87" width="29.93" height="28.67" fill="#33fafa"/>
<rect x="1014.15" y="293.87" width="29.93" height="28.67" fill="#33bebe"/>
<rect x="1044.08" y="293.87" width="29.93" height="28.67" fill="#3a9090"/>
<rect x="1074.02" y="293.87" width="29.93" height="28.67" fill="#33bebe"/>
<rect x="1103.95" y="293.87" width="29.93" height="28.67" fill="#33adad"/>
<rect x="1133.88" y="293.87" width="29.93" height="28.67" fill="#3a8080"/>
<rect x="1163.81" y="293.87" width="29.93" height="28.67" fill="#33fafa"/>
<rect x="1193.74" y="293.87" width="29.93" height="28.67" fill="#33bebe"/>
<rect x="1223.67" y="293.87" width="29.93" height="28.67" fill="#30e8e8"/>
<rect x="86.3" y="322.53" width="29.93" height="28.67" fill="#6c2d2d"/>
<rect x="116.23" y="322.53" width="29.93" height="28.67" fill="#38a3a3"/>
<rect x="146.16" y="322.53" width="59.86" height="28.67" fill="#3a9090"/>
<rect x="206.02" y="322.53" width="89.79" height="28.67" fill="#30e8e8"/>
<rect x="295.82" y="322.53" width="29.93" height="28.67" fill="#33bebe"/>
<rect x="325.75" y="322.53" width="29.93" height="28.67" fill="#30e8e8"/>
<rect x="355.68" y="322.53" width="29.93" height="28.67" fill="#3b4a4a"/>
<rect x="385.61" y="322.53" width="29.93" height="28.67" fill="#6c2d2d"/>
<rect x="415.54" y="322.53" width="29.93" height="28.67" fill="#424242"/>
<rect x="445.47" y="322.53" width="29.93" height="28.67" fill="#3a8080"/>
<rect x="475.4" y="322.53" width="29.93" height="28.67" fill="#3a5757"/>
<rect x="505.33" y="322.53" width="29.93" height="28.67" fill="#30e8e8"/>
<rect x="535.26" y="322.53" width="59.86" height="28.67" fill="#3a5757"/>
<rect x="595.12" y="322.53" width="29.93" height="28.67" fill="#424242"/>
<rect x="625.05" y="322.53" width="29.93" height="28.67" fill="#3a5757"/>
<rect x="654.98" y="322.53" width="29.93" height="28.67" fill="#38a3a3"/>
<rect x="684.92" y="322.53" width="29.93" height="28.67" fill="#33bebe"/>
<rect x="714.85" y="322.53" width="29.93" height="28.67" fill="#3a9090"/>
<rect x="744.78" y="322.53" width="29.93" height="28.67" fill="#3a8080"/>
<rect x="774.71" y="322.53" width="29.93" height="28.67" fill="#424242"/>
<rect x="804.64" y="322.53" width="29.93" height="28.67" fill="#3a7070"/>
<rect x="834.57" y="322.53" width="29.93" height="28.67" fill="#33adad"/>
<rect x="864.5" y="322.53" width="59.86" height="28.67" fill="#3a5757"/>
<rect x="924.36" y="322.53" width="29.93" height="28.67" fill="#30d4d4"/>
<rect x="954.29" y="322.53" width="29.93" height="28.67" fill="#33fafa"/>
<rect x="984.22" y="322.53" width="29.93" height="28.67" fill="#4a3838"/>
<rect x="1014.15" y="322.53" width="29.93" height="28.67" fill="#30e8e8"/>
<rect x="1044.08" y="322.53" width="29.93" height="28.67" fill="#4a3838"/>
<rect x="1074.02" y="322.53" width="29.93" height="28.67" fill="#30e8e8"/>
<rect x="1103.95" y="322.53" width="29.93" height="28.67" fill="#33fafa"/>
<rect x="1133.88" y="322.53" width="29.93" height="28.67" fill="#3a9090"/>
<rect x="1163.81" y="322.53" width="29.93" height="28.67" fill="#424242"/>
<rect x="1193.74" y="322.53" width="29.93" height="28.67" fill="#33adad"/>
<rect x="1223.67" y="322.53" width="29.93" height="28.67" fill="#30d4d4"/>
</g>
<rect x="87" y="7.2" width="1166.8" height="343.8" fill="none" stroke="#000" stroke-width="2.2"/>
<text x="65" y="29.33" font-size="28.5" text-anchor="end">12</text>
<text x="65" y="58" font-size="28.5" text-anchor="end">11</text>
<text x="65" y="86.67" font-size="28.5" text-anchor="end">10</text>
<text x="65" y="115.33" font-size="28.5" text-anchor="end">9</text>
<text x="65" y="144" font-size="28.5" text-anchor="end">8</text>
<text x="65" y="172.67" font-size="28.5" text-anchor="end">7</text>
<text x="65" y="201.33" font-size="28.5" text-anchor="end">6</text>
<text x="65" y="230" font-size="28.5" text-anchor="end">5</text>
<text x="65" y="258.67" font-size="28.5" text-anchor="end">4</text>
<text x="65" y="287.33" font-size="28.5" text-anchor="end">3</text>
<text x="65" y="316" font-size="28.5" text-anchor="end">2</text>
<text x="65" y="344.67" font-size="28.5" text-anchor="end">1</text>
<text x="101.8" y="407.5" font-size="28.5" text-anchor="middle">1980</text>
<text x="250.5" y="407.5" font-size="28.5" text-anchor="middle">1985</text>
<text x="399.9" y="407.5" font-size="28.5" text-anchor="middle">1990</text>
<text x="548.2" y="407.5" font-size="28.5" text-anchor="middle">1995</text>
<text x="698.9" y="407.5" font-size="28.5" text-anchor="middle">2000</text>
<text x="847.4" y="407.5" font-size="28.5" text-anchor="middle">2005</text>
<text x="1001.3" y="407.5" font-size="28.5" text-anchor="middle">2010</text>
<text x="1147.5" y="407.5" font-size="28.5" text-anchor="middle">2015</text>
<text x="1237.4" y="407.5" font-size="28.5" text-anchor="middle">2018</text>
<text x="672.6" y="455.8" font-size="41.5" text-anchor="middle">year</text>
<text x="675.5" y="487" font-size="34" text-anchor="middle">(a)</text>
<text transform="translate(33.5,189) rotate(-90)" font-size="40" text-anchor="middle">month</text>
<g shape-rendering="crispEdges">
<rect x="1293.7" y="341.15" width="45.6" height="11.45" fill="#33ffff"/>
<rect x="1293.7" y="329.7" width="45.6" height="11.45" fill="#33f6f6"/>
<rect x="1293.7" y="318.25" width="45.6" height="11.45" fill="#30e4e4"/>
<rect x="1293.7" y="306.8" width="45.6" height="11.45" fill="#30d4d4"/>
<rect x="1293.7" y="295.35" width="45.6" height="11.45" fill="#30cccc"/>
<rect x="1293.7" y="283.9" width="45.6" height="11.45" fill="#30b8b8"/>
<rect x="1293.7" y="272.45" width="45.6" height="11.45" fill="#33a8a8"/>
<rect x="1293.7" y="261" width="45.6" height="11.45" fill="#38a0a0"/>
<rect x="1293.7" y="249.55" width="45.6" height="11.45" fill="#3a8a8a"/>
<rect x="1293.7" y="238.1" width="45.6" height="11.45" fill="#3a8080"/>
<rect x="1293.7" y="226.65" width="45.6" height="11.45" fill="#3a7070"/>
<rect x="1293.7" y="215.2" width="45.6" height="11.45" fill="#3a6a6a"/>
<rect x="1293.7" y="203.75" width="45.6" height="11.45" fill="#3a5858"/>
<rect x="1293.7" y="192.3" width="45.6" height="11.45" fill="#3a4a4a"/>
<rect x="1293.7" y="180.85" width="45.6" height="11.45" fill="#424242"/>
<rect x="1293.7" y="169.4" width="45.6" height="11.45" fill="#424242"/>
<rect x="1293.7" y="157.95" width="45.6" height="11.45" fill="#483838"/>
<rect x="1293.7" y="146.5" width="45.6" height="11.45" fill="#553030"/>
<rect x="1293.7" y="135.05" width="45.6" height="11.45" fill="#6a3030"/>
<rect x="1293.7" y="123.6" width="45.6" height="11.45" fill="#702828"/>
<rect x="1293.7" y="112.15" width="45.6" height="11.45" fill="#852828"/>
<rect x="1293.7" y="100.7" width="45.6" height="11.45" fill="#902020"/>
<rect x="1293.7" y="89.25" width="45.6" height="11.45" fill="#a02020"/>
<rect x="1293.7" y="77.8" width="45.6" height="11.45" fill="#a81a1a"/>
<rect x="1293.7" y="66.35" width="45.6" height="11.45" fill="#bb1212"/>
<rect x="1293.7" y="54.9" width="45.6" height="11.45" fill="#cc1010"/>
<rect x="1293.7" y="43.45" width="45.6" height="11.45" fill="#d40808"/>
<rect x="1293.7" y="32" width="45.6" height="11.45" fill="#e40808"/>
<rect x="1293.7" y="20.55" width="45.6" height="11.45" fill="#f20000"/>
<rect x="1293.7" y="9.1" width="45.6" height="11.45" fill="#ff0000"/>
</g>
<rect x="1293.7" y="9.1" width="45.6" height="343.5" rx="1.5" fill="none" stroke="#000" stroke-width="3"/>
<text x="1359" y="15.4" font-size="18.2" text-anchor="start">4.000</text>
<text x="1359" y="83.8" font-size="18.2" text-anchor="start">2.860</text>
<text x="1359" y="152.2" font-size="18.2" text-anchor="start">1.720</text>
<text x="1359" y="220.6" font-size="18.2" text-anchor="start">0.5800</text>
<text x="1359" y="289" font-size="18.2" text-anchor="start">-0.5600</text>
<text x="1359" y="357.4" font-size="18.2" text-anchor="start">-1.700</text>
<g shape-rendering="crispEdges">
<rect x="85.46" y="526.35" width="30.14" height="27.56" fill="#3a7070"/>
<rect x="115.6" y="526.35" width="30.14" height="27.56" fill="#30d4d4"/>
<rect x="145.75" y="526.35" width="30.14" height="27.56" fill="#3b4a4a"/>
<rect x="175.89" y="526.35" width="30.14" height="27.56" fill="#3a6666"/>
<rect x="206.03" y="526.35" width="30.14" height="27.56" fill="#3a9090"/>
<rect x="236.18" y="526.35" width="30.14" height="27.56" fill="#33adad"/>
<rect x="266.32" y="526.35" width="30.14" height="27.56" fill="#33bebe"/>
<rect x="296.46" y="526.35" width="60.29" height="27.56" fill="#30d4d4"/>
<rect x="356.75" y="526.35" width="60.29" height="27.56" fill="#38a3a3"/>
<rect x="417.03" y="526.35" width="30.14" height="27.56" fill="#3a5757"/>
<rect x="447.18" y="526.35" width="30.14" height="27.56" fill="#3a7070"/>
<rect x="477.32" y="526.35" width="30.14" height="27.56" fill="#33adad"/>
<rect x="507.46" y="526.35" width="30.14" height="27.56" fill="#6c2d2d"/>
<rect x="537.61" y="526.35" width="30.14" height="27.56" fill="#33bebe"/>
<rect x="567.75" y="526.35" width="30.14" height="27.56" fill="#30d4d4"/>
<rect x="597.89" y="526.35" width="30.14" height="27.56" fill="#3b4a4a"/>
<rect x="628.04" y="526.35" width="30.14" height="27.56" fill="#3a9090"/>
<rect x="658.18" y="526.35" width="30.14" height="27.56" fill="#30d4d4"/>
<rect x="688.32" y="526.35" width="30.14" height="27.56" fill="#33bebe"/>
<rect x="718.46" y="526.35" width="30.14" height="27.56" fill="#3a7070"/>
<rect x="748.61" y="526.35" width="30.14" height="27.56" fill="#912020"/>
<rect x="778.75" y="526.35" width="30.14" height="27.56" fill="#33bebe"/>
<rect x="808.89" y="526.35" width="30.14" height="27.56" fill="#38a3a3"/>
<rect x="839.04" y="526.35" width="30.14" height="27.56" fill="#3a5757"/>
<rect x="869.18" y="526.35" width="30.14" height="27.56" fill="#33adad"/>
<rect x="899.32" y="526.35" width="30.14" height="27.56" fill="#424242"/>
<rect x="929.47" y="526.35" width="30.14" height="27.56" fill="#33bebe"/>
<rect x="959.61" y="526.35" width="30.14" height="27.56" fill="#3a9090"/>
<rect x="989.75" y="526.35" width="30.14" height="27.56" fill="#5a3030"/>
<rect x="1019.9" y="526.35" width="30.14" height="27.56" fill="#33adad"/>
<rect x="1050.04" y="526.35" width="30.14" height="27.56" fill="#3b4a4a"/>
<rect x="1080.18" y="526.35" width="30.14" height="27.56" fill="#6c2d2d"/>
<rect x="1110.32" y="526.35" width="30.14" height="27.56" fill="#3a7070"/>
<rect x="1140.47" y="526.35" width="30.14" height="27.56" fill="#ff0000"/>
<rect x="1170.61" y="526.35" width="30.14" height="27.56" fill="#38a3a3"/>
<rect x="1200.75" y="526.35" width="30.14" height="27.56" fill="#3a8080"/>
<rect x="1230.9" y="526.35" width="30.14" height="27.56" fill="#3a5757"/>
<rect x="85.46" y="553.91" width="30.14" height="27.56" fill="#30d4d4"/>
<rect x="115.6" y="553.91" width="30.14" height="27.56" fill="#3b4a4a"/>
<rect x="145.75" y="553.91" width="30.14" height="27.56" fill="#6c2d2d"/>
<rect x="175.89" y="553.91" width="30.14" height="27.56" fill="#33adad"/>
<rect x="206.03" y="553.91" width="30.14" height="27.56" fill="#38a3a3"/>
<rect x="236.18" y="553.91" width="30.14" height="27.56" fill="#3a6666"/>
<rect x="266.32" y="553.91" width="30.14" height="27.56" fill="#3a9090"/>
<rect x="296.46" y="553.91" width="30.14" height="27.56" fill="#5a3030"/>
<rect x="326.6" y="553.91" width="60.29" height="27.56" fill="#30d4d4"/>
<rect x="386.89" y="553.91" width="30.14" height="27.56" fill="#3b4a4a"/>
<rect x="417.03" y="553.91" width="30.14" height="27.56" fill="#3a6666"/>
<rect x="447.18" y="553.91" width="30.14" height="27.56" fill="#33bebe"/>
<rect x="477.32" y="553.91" width="30.14" height="27.56" fill="#3a9090"/>
<rect x="507.46" y="553.91" width="60.29" height="27.56" fill="#38a3a3"/>
<rect x="567.75" y="553.91" width="30.14" height="27.56" fill="#30d4d4"/>
<rect x="597.89" y="553.91" width="30.14" height="27.56" fill="#33bebe"/>
<rect x="628.04" y="553.91" width="30.14" height="27.56" fill="#33adad"/>
<rect x="658.18" y="553.91" width="30.14" height="27.56" fill="#3a7070"/>
<rect x="688.32" y="553.91" width="30.14" height="27.56" fill="#33bebe"/>
<rect x="718.46" y="553.91" width="30.14" height="27.56" fill="#3a7070"/>
<rect x="748.61" y="553.91" width="30.14" height="27.56" fill="#3a9090"/>
<rect x="778.75" y="553.91" width="30.14" height="27.56" fill="#30d4d4"/>
<rect x="808.89" y="553.91" width="30.14" height="27.56" fill="#33adad"/>
<rect x="839.04" y="553.91" width="30.14" height="27.56" fill="#38a3a3"/>
<rect x="869.18" y="553.91" width="30.14" height="27.56" fill="#424242"/>
<rect x="899.32" y="553.91" width="30.14" height="27.56" fill="#30d4d4"/>
<rect x="929.47" y="553.91" width="30.14" height="27.56" fill="#424242"/>
<rect x="959.61" y="553.91" width="30.14" height="27.56" fill="#38a3a3"/>
<rect x="989.75" y="553.91" width="30.14" height="27.56" fill="#33bebe"/>
<rect x="1019.9" y="553.91" width="30.14" height="27.56" fill="#30d4d4"/>
<rect x="1050.04" y="553.91" width="30.14" height="27.56" fill="#912020"/>
<rect x="1080.18" y="553.91" width="60.29" height="27.56" fill="#424242"/>
<rect x="1140.47" y="553.91" width="30.14" height="27.56" fill="#ff0000"/>
<rect x="1170.61" y="553.91" width="30.14" height="27.56" fill="#5a3030"/>
<rect x="1200.75" y="553.91" width="30.14" height="27.56" fill="#3b4a4a"/>
<rect x="1230.9" y="553.91" width="30.14" height="27.56" fill="#3a8080"/>
<rect x="85.46" y="581.48" width="30.14" height="27.56" fill="#3a8080"/>
<rect x="115.6" y="581.48" width="30.14" height="27.56" fill="#424242"/>
<rect x="145.75" y="581.48" width="30.14" height="27.56" fill="#38a3a3"/>
<rect x="175.89" y="581.48" width="30.14" height="27.56" fill="#424242"/>
<rect x="206.03" y="581.48" width="30.14" height="27.56" fill="#3a8080"/>
<rect x="236.18" y="581.48" width="30.14" height="27.56" fill="#33bebe"/>
<rect x="266.32" y="581.48" width="30.14" height="27.56" fill="#3a8080"/>
<rect x="296.46" y="581.48" width="30.14" height="27.56" fill="#3a6666"/>
<rect x="326.6" y="581.48" width="30.14" height="27.56" fill="#3a7070"/>
<rect x="356.75" y="581.48" width="30.14" height="27.56" fill="#30d4d4"/>
<rect x="386.89" y="581.48" width="30.14" height="27.56" fill="#3a5757"/>
<rect x="417.03" y="581.48" width="30.14" height="27.56" fill="#33bebe"/>
<rect x="447.18" y="581.48" width="30.14" height="27.56" fill="#30d4d4"/>
<rect x="477.32" y="581.48" width="30.14" height="27.56" fill="#3a8080"/>
<rect x="507.46" y="581.48" width="30.14" height="27.56" fill="#3a7070"/>
<rect x="537.61" y="581.48" width="30.14" height="27.56" fill="#4a3838"/>
<rect x="567.75" y="581.48" width="30.14" height="27.56" fill="#3a9090"/>
<rect x="597.89" y="581.48" width="30.14" height="27.56" fill="#3a6666"/>
<rect x="628.04" y="581.48" width="30.14" height="27.56" fill="#33adad"/>
<rect x="658.18" y="581.48" width="30.14" height="27.56" fill="#3b4a4a"/>
<rect x="688.32" y="581.48" width="30.14" height="27.56" fill="#a81a1a"/>
<rect x="718.46" y="581.48" width="30.14" height="27.56" fill="#424242"/>
<rect x="748.61" y="581.48" width="30.14" height="27.56" fill="#912020"/>
<rect x="778.75" y="581.48" width="30.14" height="27.56" fill="#33bebe"/>
<rect x="808.89" y="581.48" width="30.14" height="27.56" fill="#30d4d4"/>
<rect x="839.04" y="581.48" width="60.29" height="27.56" fill="#33bebe"/>
<rect x="899.32" y="581.48" width="30.14" height="27.56" fill="#30d4d4"/>
<rect x="929.47" y="581.48" width="30.14" height="27.56" fill="#3a6666"/>
<rect x="959.61" y="581.48" width="30.14" height="27.56" fill="#33adad"/>
<rect x="989.75" y="581.48" width="30.14" height="27.56" fill="#33bebe"/>
<rect x="1019.9" y="581.48" width="30.14" height="27.56" fill="#424242"/>
<rect x="1050.04" y="581.48" width="30.14" height="27.56" fill="#3a9090"/>
<rect x="1080.18" y="581.48" width="30.14" height="27.56" fill="#33bebe"/>
<rect x="1110.32" y="581.48" width="30.14" height="27.56" fill="#30d4d4"/>
<rect x="1140.47" y="581.48" width="30.14" height="27.56" fill="#ff0000"/>
<rect x="1170.61" y="581.48" width="30.14" height="27.56" fill="#38a3a3"/>
<rect x="1200.75" y="581.48" width="30.14" height="27.56" fill="#33bebe"/>
<rect x="1230.9" y="581.48" width="30.14" height="27.56" fill="#5a3030"/>
<rect x="85.46" y="609.04" width="30.14" height="27.56" fill="#4a3838"/>
<rect x="115.6" y="609.04" width="30.14" height="27.56" fill="#38a3a3"/>
<rect x="145.75" y="609.04" width="30.14" height="27.56" fill="#3b4a4a"/>
<rect x="175.89" y="609.04" width="30.14" height="27.56" fill="#3a7070"/>
<rect x="206.03" y="609.04" width="30.14" height="27.56" fill="#3a8080"/>
<rect x="236.18" y="609.04" width="30.14" height="27.56" fill="#4a3838"/>
<rect x="266.32" y="609.04" width="30.14" height="27.56" fill="#33bebe"/>
<rect x="296.46" y="609.04" width="30.14" height="27.56" fill="#38a3a3"/>
<rect x="326.6" y="609.04" width="30.14" height="27.56" fill="#30d4d4"/>
<rect x="356.75" y="609.04" width="30.14" height="27.56" fill="#3a5757"/>
<rect x="386.89" y="609.04" width="30.14" height="27.56" fill="#3a9090"/>
<rect x="417.03" y="609.04" width="30.14" height="27.56" fill="#30e8e8"/>
<rect x="447.18" y="609.04" width="30.14" height="27.56" fill="#424242"/>
<rect x="477.32" y="609.04" width="30.14" height="27.56" fill="#3a5757"/>
<rect x="507.46" y="609.04" width="30.14" height="27.56" fill="#38a3a3"/>
<rect x="537.61" y="609.04" width="30.14" height="27.56" fill="#6c2d2d"/>
<rect x="567.75" y="609.04" width="30.14" height="27.56" fill="#30d4d4"/>
<rect x="597.89" y="609.04" width="30.14" height="27.56" fill="#3a6666"/>
<rect x="628.04" y="609.04" width="30.14" height="27.56" fill="#33bebe"/>
<rect x="658.18" y="609.04" width="30.14" height="27.56" fill="#3a9090"/>
<rect x="688.32" y="609.04" width="30.14" height="27.56" fill="#30d4d4"/>
<rect x="718.46" y="609.04" width="30.14" height="27.56" fill="#30e8e8"/>
<rect x="748.61" y="609.04" width="30.14" height="27.56" fill="#33adad"/>
<rect x="778.75" y="609.04" width="30.14" height="27.56" fill="#822828"/>
<rect x="808.89" y="609.04" width="90.43" height="27.56" fill="#30d4d4"/>
<rect x="899.32" y="609.04" width="30.14" height="27.56" fill="#6c2d2d"/>
<rect x="929.47" y="609.04" width="30.14" height="27.56" fill="#3a8080"/>
<rect x="959.61" y="609.04" width="30.14" height="27.56" fill="#38a3a3"/>
<rect x="989.75" y="609.04" width="30.14" height="27.56" fill="#a81a1a"/>
<rect x="1019.9" y="609.04" width="60.29" height="27.56" fill="#3a9090"/>
<rect x="1080.18" y="609.04" width="30.14" height="27.56" fill="#912020"/>
<rect x="1110.32" y="609.04" width="30.14" height="27.56" fill="#38a3a3"/>
<rect x="1140.47" y="609.04" width="30.14" height="27.56" fill="#5a3030"/>
<rect x="1170.61" y="609.04" width="30.14" height="27.56" fill="#38a3a3"/>
<rect x="1200.75" y="609.04" width="60.29" height="27.56" fill="#3a6666"/>
<rect x="85.46" y="636.6" width="30.14" height="27.56" fill="#3a9090"/>
<rect x="115.6" y="636.6" width="30.14" height="27.56" fill="#3a5757"/>
<rect x="145.75" y="636.6" width="30.14" height="27.56" fill="#424242"/>
<rect x="175.89" y="636.6" width="30.14" height="27.56" fill="#38a3a3"/>
<rect x="206.03" y="636.6" width="30.14" height="27.56" fill="#424242"/>
<rect x="236.18" y="636.6" width="30.14" height="27.56" fill="#3b4a4a"/>
<rect x="266.32" y="636.6" width="30.14" height="27.56" fill="#33adad"/>
<rect x="296.46" y="636.6" width="30.14" height="27.56" fill="#3a8080"/>
<rect x="326.6" y="636.6" width="30.14" height="27.56" fill="#6c2d2d"/>
<rect x="356.75" y="636.6" width="30.14" height="27.56" fill="#3a9090"/>
<rect x="386.89" y="636.6" width="30.14" height="27.56" fill="#30e8e8"/>
<rect x="417.03" y="636.6" width="30.14" height="27.56" fill="#38a3a3"/>
<rect x="447.18" y="636.6" width="30.14" height="27.56" fill="#30d4d4"/>
<rect x="477.32" y="636.6" width="30.14" height="27.56" fill="#3a7070"/>
<rect x="507.46" y="636.6" width="30.14" height="27.56" fill="#912020"/>
<rect x="537.61" y="636.6" width="30.14" height="27.56" fill="#3a6666"/>
<rect x="567.75" y="636.6" width="30.14" height="27.56" fill="#4a3838"/>
<rect x="597.89" y="636.6" width="30.14" height="27.56" fill="#3a8080"/>
<rect x="628.04" y="636.6" width="30.14" height="27.56" fill="#30e8e8"/>
<rect x="658.18" y="636.6" width="30.14" height="27.56" fill="#822828"/>
<rect x="688.32" y="636.6" width="30.14" height="27.56" fill="#33bebe"/>
<rect x="718.46" y="636.6" width="30.14" height="27.56" fill="#3a7070"/>
<rect x="748.61" y="636.6" width="30.14" height="27.56" fill="#5a3030"/>
<rect x="778.75" y="636.6" width="30.14" height="27.56" fill="#33bebe"/>
<rect x="808.89" y="636.6" width="30.14" height="27.56" fill="#3a7070"/>
<rect x="839.04" y="636.6" width="30.14" height="27.56" fill="#38a3a3"/>
<rect x="869.18" y="636.6" width="30.14" height="27.56" fill="#3a6666"/>
<rect x="899.32" y="636.6" width="30.14" height="27.56" fill="#30d4d4"/>
<rect x="929.47" y="636.6" width="30.14" height="27.56" fill="#38a3a3"/>
<rect x="959.61" y="636.6" width="60.29" height="27.56" fill="#30d4d4"/>
<rect x="1019.9" y="636.6" width="60.29" height="27.56" fill="#33adad"/>
<rect x="1080.18" y="636.6" width="30.14" height="27.56" fill="#d80a0a"/>
<rect x="1110.32" y="636.6" width="30.14" height="27.56" fill="#3a8080"/>
<rect x="1140.47" y="636.6" width="60.29" height="27.56" fill="#3a6666"/>
<rect x="1200.75" y="636.6" width="30.14" height="27.56" fill="#33adad"/>
<rect x="1230.9" y="636.6" width="30.14" height="27.56" fill="#33bebe"/>
<rect x="85.46" y="664.16" width="30.14" height="27.56" fill="#3a7070"/>
<rect x="115.6" y="664.16" width="30.14" height="27.56" fill="#3a5757"/>
<rect x="145.75" y="664.16" width="30.14" height="27.56" fill="#33adad"/>
<rect x="175.89" y="664.16" width="30.14" height="27.56" fill="#33bebe"/>
<rect x="206.03" y="664.16" width="30.14" height="27.56" fill="#3a9090"/>
<rect x="236.18" y="664.16" width="30.14" height="27.56" fill="#30d4d4"/>
<rect x="266.32" y="664.16" width="30.14" height="27.56" fill="#3a7070"/>
<rect x="296.46" y="664.16" width="30.14" height="27.56" fill="#5a3030"/>
<rect x="326.6" y="664.16" width="30.14" height="27.56" fill="#3a9090"/>
<rect x="356.75" y="664.16" width="90.43" height="27.56" fill="#33bebe"/>
<rect x="447.18" y="664.16" width="60.29" height="27.56" fill="#3a6666"/>
<rect x="507.46" y="664.16" width="30.14" height="27.56" fill="#6c2d2d"/>
<rect x="537.61" y="664.16" width="30.14" height="27.56" fill="#38a3a3"/>
<rect x="567.75" y="664.16" width="30.14" height="27.56" fill="#3a9090"/>
<rect x="597.89" y="664.16" width="30.14" height="27.56" fill="#424242"/>
<rect x="628.04" y="664.16" width="30.14" height="27.56" fill="#3a8080"/>
<rect x="658.18" y="664.16" width="60.29" height="27.56" fill="#3a6666"/>
<rect x="718.46" y="664.16" width="30.14" height="27.56" fill="#3a8080"/>
<rect x="748.61" y="664.16" width="30.14" height="27.56" fill="#424242"/>
<rect x="778.75" y="664.16" width="30.14" height="27.56" fill="#30d4d4"/>
<rect x="808.89" y="664.16" width="30.14" height="27.56" fill="#be1212"/>
<rect x="839.04" y="664.16" width="30.14" height="27.56" fill="#38a3a3"/>
<rect x="869.18" y="664.16" width="30.14" height="27.56" fill="#ff0000"/>
<rect x="899.32" y="664.16" width="30.14" height="27.56" fill="#30d4d4"/>
<rect x="929.47" y="664.16" width="30.14" height="27.56" fill="#38a3a3"/>
<rect x="959.61" y="664.16" width="30.14" height="27.56" fill="#3a9090"/>
<rect x="989.75" y="664.16" width="60.29" height="27.56" fill="#30d4d4"/>
<rect x="1050.04" y="664.16" width="30.14" height="27.56" fill="#38a3a3"/>
<rect x="1080.18" y="664.16" width="30.14" height="27.56" fill="#30d4d4"/>
<rect x="1110.32" y="664.16" width="30.14" height="27.56" fill="#38a3a3"/>
<rect x="1140.47" y="664.16" width="30.14" height="27.56" fill="#424242"/>
<rect x="1170.61" y="664.16" width="90.43" height="27.56" fill="#3a6666"/>
<rect x="85.46" y="691.73" width="30.14" height="27.56" fill="#33bebe"/>
<rect x="115.6" y="691.73" width="60.29" height="27.56" fill="#38a3a3"/>
<rect x="175.89" y="691.73" width="30.14" height="27.56" fill="#33bebe"/>
<rect x="206.03" y="691.73" width="30.14" height="27.56" fill="#30d4d4"/>
<rect x="236.18" y="691.73" width="30.14" height="27.56" fill="#3a9090"/>
<rect x="266.32" y="691.73" width="30.14" height="27.56" fill="#38a3a3"/>
<rect x="296.46" y="691.73" width="30.14" height="27.56" fill="#33adad"/>
<rect x="326.6" y="691.73" width="30.14" height="27.56" fill="#33fafa"/>
<rect x="356.75" y="691.73" width="60.29" height="27.56" fill="#30d4d4"/>
<rect x="417.03" y="691.73" width="30.14" height="27.56" fill="#38a3a3"/>
<rect x="447.18" y="691.73" width="30.14" height="27.56" fill="#3a9090"/>
<rect x="477.32" y="691.73" width="30.14" height="27.56" fill="#6c2d2d"/>
<rect x="507.46" y="691.73" width="30.14" height="27.56" fill="#424242"/>
<rect x="537.61" y="691.73" width="30.14" height="27.56" fill="#be1212"/>
<rect x="567.75" y="691.73" width="30.14" height="27.56" fill="#3a6666"/>
<rect x="597.89" y="691.73" width="30.14" height="27.56" fill="#33adad"/>
<rect x="628.04" y="691.73" width="30.14" height="27.56" fill="#4a3838"/>
<rect x="658.18" y="691.73" width="30.14" height="27.56" fill="#3a8080"/>
<rect x="688.32" y="691.73" width="30.14" height="27.56" fill="#33adad"/>
<rect x="718.46" y="691.73" width="30.14" height="27.56" fill="#6c2d2d"/>
<rect x="748.61" y="691.73" width="30.14" height="27.56" fill="#424242"/>
<rect x="778.75" y="691.73" width="30.14" height="27.56" fill="#3a8080"/>
<rect x="808.89" y="691.73" width="30.14" height="27.56" fill="#30d4d4"/>
<rect x="839.04" y="691.73" width="30.14" height="27.56" fill="#822828"/>
<rect x="869.18" y="691.73" width="30.14" height="27.56" fill="#33adad"/>
<rect x="899.32" y="691.73" width="30.14" height="27.56" fill="#3a7070"/>
<rect x="929.47" y="691.73" width="30.14" height="27.56" fill="#4a3838"/>
<rect x="959.61" y="691.73" width="30.14" height="27.56" fill="#38a3a3"/>
<rect x="989.75" y="691.73" width="30.14" height="27.56" fill="#6c2d2d"/>
<rect x="1019.9" y="691.73" width="30.14" height="27.56" fill="#33adad"/>
<rect x="1050.04" y="691.73" width="30.14" height="27.56" fill="#5a3030"/>
<rect x="1080.18" y="691.73" width="30.14" height="27.56" fill="#38a3a3"/>
<rect x="1110.32" y="691.73" width="30.14" height="27.56" fill="#424242"/>
<rect x="1140.47" y="691.73" width="30.14" height="27.56" fill="#33adad"/>
<rect x="1170.61" y="691.73" width="30.14" height="27.56" fill="#3a6666"/>
<rect x="1200.75" y="691.73" width="30.14" height="27.56" fill="#3a8080"/>
<rect x="1230.9" y="691.73" width="30.14" height="27.56" fill="#33bebe"/>
<rect x="85.46" y="719.29" width="30.14" height="27.56" fill="#3a7070"/>
<rect x="115.6" y="719.29" width="30.14" height="27.56" fill="#6c2d2d"/>
<rect x="145.75" y="719.29" width="30.14" height="27.56" fill="#3a6666"/>
<rect x="175.89" y="719.29" width="30.14" height="27.56" fill="#33adad"/>
<rect x="206.03" y="719.29" width="30.14" height="27.56" fill="#38a3a3"/>
<rect x="236.18" y="719.29" width="30.14" height="27.56" fill="#3a7070"/>
<rect x="266.32" y="719.29" width="30.14" height="27.56" fill="#3a5757"/>
<rect x="296.46" y="719.29" width="30.14" height="27.56" fill="#3b4a4a"/>
<rect x="326.6" y="719.29" width="30.14" height="27.56" fill="#30d4d4"/>
<rect x="356.75" y="719.29" width="30.14" height="27.56" fill="#33bebe"/>
<rect x="386.89" y="719.29" width="30.14" height="27.56" fill="#38a3a3"/>
<rect x="417.03" y="719.29" width="30.14" height="27.56" fill="#30e8e8"/>
<rect x="447.18" y="719.29" width="30.14" height="27.56" fill="#3a5757"/>
<rect x="477.32" y="719.29" width="30.14" height="27.56" fill="#822828"/>
<rect x="507.46" y="719.29" width="30.14" height="27.56" fill="#38a3a3"/>
<rect x="537.61" y="719.29" width="30.14" height="27.56" fill="#3a5757"/>
<rect x="567.75" y="719.29" width="30.14" height="27.56" fill="#3a6666"/>
<rect x="597.89" y="719.29" width="30.14" height="27.56" fill="#3a5757"/>
<rect x="628.04" y="719.29" width="30.14" height="27.56" fill="#424242"/>
<rect x="658.18" y="719.29" width="30.14" height="27.56" fill="#3a6666"/>
<rect x="688.32" y="719.29" width="30.14" height="27.56" fill="#3a7070"/>
<rect x="718.46" y="719.29" width="30.14" height="27.56" fill="#38a3a3"/>
<rect x="748.61" y="719.29" width="30.14" height="27.56" fill="#3a5757"/>
<rect x="778.75" y="719.29" width="30.14" height="27.56" fill="#3a9090"/>
<rect x="808.89" y="719.29" width="30.14" height="27.56" fill="#6c2d2d"/>
<rect x="839.04" y="719.29" width="30.14" height="27.56" fill="#33adad"/>
<rect x="869.18" y="719.29" width="30.14" height="27.56" fill="#38a3a3"/>
<rect x="899.32" y="719.29" width="30.14" height="27.56" fill="#33bebe"/>
<rect x="929.47" y="719.29" width="30.14" height="27.56" fill="#38a3a3"/>
<rect x="959.61" y="719.29" width="30.14" height="27.56" fill="#33bebe"/>
<rect x="989.75" y="719.29" width="30.14" height="27.56" fill="#30d4d4"/>
<rect x="1019.9" y="719.29" width="30.14" height="27.56" fill="#3a8080"/>
<rect x="1050.04" y="719.29" width="30.14" height="27.56" fill="#33fafa"/>
<rect x="1080.18" y="719.29" width="30.14" height="27.56" fill="#38a3a3"/>
<rect x="1110.32" y="719.29" width="30.14" height="27.56" fill="#3a5757"/>
<rect x="1140.47" y="719.29" width="30.14" height="27.56" fill="#d80a0a"/>
<rect x="1170.61" y="719.29" width="30.14" height="27.56" fill="#a81a1a"/>
<rect x="1200.75" y="719.29" width="30.14" height="27.56" fill="#3a9090"/>
<rect x="1230.9" y="719.29" width="30.14" height="27.56" fill="#33fafa"/>
<rect x="85.46" y="746.85" width="30.14" height="27.56" fill="#3a7070"/>
<rect x="115.6" y="746.85" width="30.14" height="27.56" fill="#be1212"/>
<rect x="145.75" y="746.85" width="30.14" height="27.56" fill="#38a3a3"/>
<rect x="175.89" y="746.85" width="30.14" height="27.56" fill="#33adad"/>
<rect x="206.03" y="746.85" width="30.14" height="27.56" fill="#424242"/>
<rect x="236.18" y="746.85" width="30.14" height="27.56" fill="#38a3a3"/>
<rect x="266.32" y="746.85" width="30.14" height="27.56" fill="#3a9090"/>
<rect x="296.46" y="746.85" width="30.14" height="27.56" fill="#38a3a3"/>
<rect x="326.6" y="746.85" width="30.14" height="27.56" fill="#33bebe"/>
<rect x="356.75" y="746.85" width="30.14" height="27.56" fill="#3b4a4a"/>
<rect x="386.89" y="746.85" width="30.14" height="27.56" fill="#3a6666"/>
<rect x="417.03" y="746.85" width="30.14" height="27.56" fill="#33fafa"/>
<rect x="447.18" y="746.85" width="30.14" height="27.56" fill="#30d4d4"/>
<rect x="477.32" y="746.85" width="30.14" height="27.56" fill="#3a8080"/>
<rect x="507.46" y="746.85" width="30.14" height="27.56" fill="#38a3a3"/>
<rect x="537.61" y="746.85" width="30.14" height="27.56" fill="#33adad"/>
<rect x="567.75" y="746.85" width="30.14" height="27.56" fill="#33bebe"/>
<rect x="597.89" y="746.85" width="30.14" height="27.56" fill="#6c2d2d"/>
<rect x="628.04" y="746.85" width="30.14" height="27.56" fill="#3a7070"/>
<rect x="658.18" y="746.85" width="30.14" height="27.56" fill="#424242"/>
<rect x="688.32" y="746.85" width="30.14" height="27.56" fill="#912020"/>
<rect x="718.46" y="746.85" width="30.14" height="27.56" fill="#3a5757"/>
<rect x="748.61" y="746.85" width="30.14" height="27.56" fill="#38a3a3"/>
<rect x="778.75" y="746.85" width="30.14" height="27.56" fill="#424242"/>
<rect x="808.89" y="746.85" width="30.14" height="27.56" fill="#33bebe"/>
<rect x="839.04" y="746.85" width="30.14" height="27.56" fill="#38a3a3"/>
<rect x="869.18" y="746.85" width="30.14" height="27.56" fill="#3a7070"/>
<rect x="899.32" y="746.85" width="30.14" height="27.56" fill="#3b4a4a"/>
<rect x="929.47" y="746.85" width="30.14" height="27.56" fill="#30d4d4"/>
<rect x="959.61" y="746.85" width="30.14" height="27.56" fill="#3a9090"/>
<rect x="989.75" y="746.85" width="30.14" height="27.56" fill="#3a7070"/>
<rect x="1019.9" y="746.85" width="30.14" height="27.56" fill="#30e8e8"/>
<rect x="1050.04" y="746.85" width="30.14" height="27.56" fill="#3b4a4a"/>
<rect x="1080.18" y="746.85" width="30.14" height="27.56" fill="#3a9090"/>
<rect x="1110.32" y="746.85" width="30.14" height="27.56" fill="#3a5757"/>
<rect x="1140.47" y="746.85" width="30.14" height="27.56" fill="#33bebe"/>
<rect x="1170.61" y="746.85" width="30.14" height="27.56" fill="#be1212"/>
<rect x="1200.75" y="746.85" width="30.14" height="27.56" fill="#30d4d4"/>
<rect x="1230.9" y="746.85" width="30.14" height="27.56" fill="#33adad"/>
<rect x="85.46" y="774.41" width="30.14" height="27.56" fill="#33bebe"/>
<rect x="115.6" y="774.41" width="30.14" height="27.56" fill="#5a3030"/>
<rect x="145.75" y="774.41" width="30.14" height="27.56" fill="#38a3a3"/>
<rect x="175.89" y="774.41" width="30.14" height="27.56" fill="#6c2d2d"/>
<rect x="206.03" y="774.41" width="30.14" height="27.56" fill="#30d4d4"/>
<rect x="236.18" y="774.41" width="30.14" height="27.56" fill="#38a3a3"/>
<rect x="266.32" y="774.41" width="30.14" height="27.56" fill="#30d4d4"/>
<rect x="296.46" y="774.41" width="30.14" height="27.56" fill="#30e8e8"/>
<rect x="326.6" y="774.41" width="30.14" height="27.56" fill="#3a7070"/>
<rect x="356.75" y="774.41" width="30.14" height="27.56" fill="#33bebe"/>
<rect x="386.89" y="774.41" width="30.14" height="27.56" fill="#4a3838"/>
<rect x="417.03" y="774.41" width="30.14" height="27.56" fill="#33adad"/>
<rect x="447.18" y="774.41" width="30.14" height="27.56" fill="#3a7070"/>
<rect x="477.32" y="774.41" width="30.14" height="27.56" fill="#30e8e8"/>
<rect x="507.46" y="774.41" width="30.14" height="27.56" fill="#3a5757"/>
<rect x="537.61" y="774.41" width="30.14" height="27.56" fill="#33adad"/>
<rect x="567.75" y="774.41" width="30.14" height="27.56" fill="#822828"/>
<rect x="597.89" y="774.41" width="60.29" height="27.56" fill="#6c2d2d"/>
<rect x="658.18" y="774.41" width="30.14" height="27.56" fill="#33fafa"/>
<rect x="688.32" y="774.41" width="30.14" height="27.56" fill="#3a9090"/>
<rect x="718.46" y="774.41" width="30.14" height="27.56" fill="#3b4a4a"/>
<rect x="748.61" y="774.41" width="30.14" height="27.56" fill="#38a3a3"/>
<rect x="778.75" y="774.41" width="30.14" height="27.56" fill="#3a9090"/>
<rect x="808.89" y="774.41" width="30.14" height="27.56" fill="#33fafa"/>
<rect x="839.04" y="774.41" width="30.14" height="27.56" fill="#4a3838"/>
<rect x="869.18" y="774.41" width="30.14" height="27.56" fill="#38a3a3"/>
<rect x="899.32" y="774.41" width="30.14" height="27.56" fill="#3a8080"/>
<rect x="929.47" y="774.41" width="30.14" height="27.56" fill="#3a6666"/>
<rect x="959.61" y="774.41" width="30.14" height="27.56" fill="#424242"/>
<rect x="989.75" y="774.41" width="30.14" height="27.56" fill="#30e8e8"/>
<rect x="1019.9" y="774.41" width="30.14" height="27.56" fill="#3a9090"/>
<rect x="1050.04" y="774.41" width="30.14" height="27.56" fill="#3a5757"/>
<rect x="1080.18" y="774.41" width="30.14" height="27.56" fill="#6c2d2d"/>
<rect x="1110.32" y="774.41" width="30.14" height="27.56" fill="#3a5757"/>
<rect x="1140.47" y="774.41" width="30.14" height="27.56" fill="#33bebe"/>
<rect x="1170.61" y="774.41" width="30.14" height="27.56" fill="#38a3a3"/>
<rect x="1200.75" y="774.41" width="30.14" height="27.56" fill="#4a3838"/>
<rect x="1230.9" y="774.41" width="30.14" height="27.56" fill="#3b4a4a"/>
<rect x="85.46" y="801.98" width="30.14" height="27.56" fill="#38a3a3"/>
<rect x="115.6" y="801.98" width="30.14" height="27.56" fill="#5a3030"/>
<rect x="145.75" y="801.98" width="30.14" height="27.56" fill="#6c2d2d"/>
<rect x="175.89" y="801.98" width="30.14" height="27.56" fill="#d80a0a"/>
<rect x="206.03" y="801.98" width="30.14" height="27.56" fill="#33bebe"/>
<rect x="236.18" y="801.98" width="30.14" height="27.56" fill="#5a3030"/>
<rect x="266.32" y="801.98" width="30.14" height="27.56" fill="#3a5757"/>
<rect x="296.46" y="801.98" width="30.14" height="27.56" fill="#38a3a3"/>
<rect x="326.6" y="801.98" width="60.29" height="27.56" fill="#3a6666"/>
<rect x="386.89" y="801.98" width="30.14" height="27.56" fill="#a81a1a"/>
<rect x="417.03" y="801.98" width="30.14" height="27.56" fill="#33adad"/>
<rect x="447.18" y="801.98" width="30.14" height="27.56" fill="#6c2d2d"/>
<rect x="477.32" y="801.98" width="30.14" height="27.56" fill="#3a5757"/>
<rect x="507.46" y="801.98" width="30.14" height="27.56" fill="#38a3a3"/>
<rect x="537.61" y="801.98" width="30.14" height="27.56" fill="#3a5757"/>
<rect x="567.75" y="801.98" width="30.14" height="27.56" fill="#33adad"/>
<rect x="597.89" y="801.98" width="60.29" height="27.56" fill="#3a6666"/>
<rect x="658.18" y="801.98" width="30.14" height="27.56" fill="#30d4d4"/>
<rect x="688.32" y="801.98" width="30.14" height="27.56" fill="#3a9090"/>
<rect x="718.46" y="801.98" width="30.14" height="27.56" fill="#3a6666"/>
<rect x="748.61" y="801.98" width="90.43" height="27.56" fill="#33adad"/>
<rect x="839.04" y="801.98" width="30.14" height="27.56" fill="#33bebe"/>
<rect x="869.18" y="801.98" width="30.14" height="27.56" fill="#424242"/>
<rect x="899.32" y="801.98" width="30.14" height="27.56" fill="#3a8080"/>
<rect x="929.47" y="801.98" width="30.14" height="27.56" fill="#4a3838"/>
<rect x="959.61" y="801.98" width="60.29" height="27.56" fill="#30d4d4"/>
<rect x="1019.9" y="801.98" width="30.14" height="27.56" fill="#33adad"/>
<rect x="1050.04" y="801.98" width="30.14" height="27.56" fill="#38a3a3"/>
<rect x="1080.18" y="801.98" width="30.14" height="27.56" fill="#30d4d4"/>
<rect x="1110.32" y="801.98" width="30.14" height="27.56" fill="#38a3a3"/>
<rect x="1140.47" y="801.98" width="30.14" height="27.56" fill="#33adad"/>
<rect x="1170.61" y="801.98" width="30.14" height="27.56" fill="#38a3a3"/>
<rect x="1200.75" y="801.98" width="30.14" height="27.56" fill="#3a9090"/>
<rect x="1230.9" y="801.98" width="30.14" height="27.56" fill="#30d4d4"/>
<rect x="85.46" y="829.54" width="30.14" height="27.56" fill="#3a9090"/>
<rect x="115.6" y="829.54" width="30.14" height="27.56" fill="#30d4d4"/>
<rect x="145.75" y="829.54" width="30.14" height="27.56" fill="#33bebe"/>
<rect x="175.89" y="829.54" width="30.14" height="27.56" fill="#3a5757"/>
<rect x="206.03" y="829.54" width="60.29" height="27.56" fill="#33adad"/>
<rect x="266.32" y="829.54" width="60.29" height="27.56" fill="#30d4d4"/>
<rect x="326.6" y="829.54" width="30.14" height="27.56" fill="#33bebe"/>
<rect x="356.75" y="829.54" width="60.29" height="27.56" fill="#822828"/>
<rect x="417.03" y="829.54" width="30.14" height="27.56" fill="#3a8080"/>
<rect x="447.18" y="829.54" width="30.14" height="27.56" fill="#424242"/>
<rect x="477.32" y="829.54" width="30.14" height="27.56" fill="#3a8080"/>
<rect x="507.46" y="829.54" width="30.14" height="27.56" fill="#30d4d4"/>
<rect x="537.61" y="829.54" width="30.14" height="27.56" fill="#5a3030"/>
<rect x="567.75" y="829.54" width="30.14" height="27.56" fill="#33adad"/>
<rect x="597.89" y="829.54" width="30.14" height="27.56" fill="#4a3838"/>
<rect x="628.04" y="829.54" width="30.14" height="27.56" fill="#3a7070"/>
<rect x="658.18" y="829.54" width="30.14" height="27.56" fill="#33adad"/>
<rect x="688.32" y="829.54" width="30.14" height="27.56" fill="#30d4d4"/>
<rect x="718.46" y="829.54" width="30.14" height="27.56" fill="#3b4a4a"/>
<rect x="748.61" y="829.54" width="30.14" height="27.56" fill="#3a8080"/>
<rect x="778.75" y="829.54" width="30.14" height="27.56" fill="#3a7070"/>
<rect x="808.89" y="829.54" width="30.14" height="27.56" fill="#3a9090"/>
<rect x="839.04" y="829.54" width="30.14" height="27.56" fill="#33adad"/>
<rect x="869.18" y="829.54" width="30.14" height="27.56" fill="#33bebe"/>
<rect x="899.32" y="829.54" width="30.14" height="27.56" fill="#3a7070"/>
<rect x="929.47" y="829.54" width="30.14" height="27.56" fill="#3a5757"/>
<rect x="959.61" y="829.54" width="30.14" height="27.56" fill="#33bebe"/>
<rect x="989.75" y="829.54" width="30.14" height="27.56" fill="#912020"/>
<rect x="1019.9" y="829.54" width="30.14" height="27.56" fill="#33bebe"/>
<rect x="1050.04" y="829.54" width="30.14" height="27.56" fill="#424242"/>
<rect x="1080.18" y="829.54" width="30.14" height="27.56" fill="#33adad"/>
<rect x="1110.32" y="829.54" width="30.14" height="27.56" fill="#30e8e8"/>
<rect x="1140.47" y="829.54" width="30.14" height="27.56" fill="#3a8080"/>
<rect x="1170.61" y="829.54" width="30.14" height="27.56" fill="#6c2d2d"/>
<rect x="1200.75" y="829.54" width="30.14" height="27.56" fill="#3a7070"/>
<rect x="1230.9" y="829.54" width="30.14" height="27.56" fill="#be1212"/>
</g>
<rect x="85.65" y="526.3" width="1175.25" height="330.5" fill="none" stroke="#000" stroke-width="2.3"/>
<text x="63.5" y="548.73" font-size="28.5" text-anchor="end">12</text>
<line x1="73.3" y1="540.13" x2="85.46" y2="540.13" stroke="#000" stroke-width="2.3"/>
<text x="63.5" y="576.29" font-size="28.5" text-anchor="end">11</text>
<line x1="73.3" y1="567.69" x2="85.46" y2="567.69" stroke="#000" stroke-width="2.3"/>
<text x="63.5" y="603.86" font-size="28.5" text-anchor="end">10</text>
<line x1="73.3" y1="595.26" x2="85.46" y2="595.26" stroke="#000" stroke-width="2.3"/>
<text x="63.5" y="631.42" font-size="28.5" text-anchor="end">9</text>
<line x1="73.3" y1="622.82" x2="85.46" y2="622.82" stroke="#000" stroke-width="2.3"/>
<text x="63.5" y="658.98" font-size="28.5" text-anchor="end">8</text>
<line x1="73.3" y1="650.38" x2="85.46" y2="650.38" stroke="#000" stroke-width="2.3"/>
<text x="63.5" y="686.54" font-size="28.5" text-anchor="end">7</text>
<line x1="73.3" y1="677.94" x2="85.46" y2="677.94" stroke="#000" stroke-width="2.3"/>
<text x="63.5" y="714.11" font-size="28.5" text-anchor="end">6</text>
<line x1="73.3" y1="705.51" x2="85.46" y2="705.51" stroke="#000" stroke-width="2.3"/>
<text x="63.5" y="741.67" font-size="28.5" text-anchor="end">5</text>
<line x1="73.3" y1="733.07" x2="85.46" y2="733.07" stroke="#000" stroke-width="2.3"/>
<text x="63.5" y="769.23" font-size="28.5" text-anchor="end">4</text>
<line x1="73.3" y1="760.63" x2="85.46" y2="760.63" stroke="#000" stroke-width="2.3"/>
<text x="63.5" y="796.79" font-size="28.5" text-anchor="end">3</text>
<line x1="73.3" y1="788.19" x2="85.46" y2="788.19" stroke="#000" stroke-width="2.3"/>
<text x="63.5" y="824.36" font-size="28.5" text-anchor="end">2</text>
<line x1="73.3" y1="815.76" x2="85.46" y2="815.76" stroke="#000" stroke-width="2.3"/>
<text x="63.5" y="851.92" font-size="28.5" text-anchor="end">1</text>
<line x1="73.3" y1="843.32" x2="85.46" y2="843.32" stroke="#000" stroke-width="2.3"/>
<line x1="100.53" y1="857.1" x2="100.53" y2="868.3" stroke="#000" stroke-width="2.2"/>
<line x1="130.67" y1="857.1" x2="130.67" y2="868.3" stroke="#000" stroke-width="2.2"/>
<line x1="160.82" y1="857.1" x2="160.82" y2="868.3" stroke="#000" stroke-width="2.2"/>
<line x1="190.96" y1="857.1" x2="190.96" y2="868.3" stroke="#000" stroke-width="2.2"/>
<line x1="221.1" y1="857.1" x2="221.1" y2="868.3" stroke="#000" stroke-width="2.2"/>
<line x1="251.25" y1="857.1" x2="251.25" y2="868.3" stroke="#000" stroke-width="2.2"/>
<line x1="281.39" y1="857.1" x2="281.39" y2="868.3" stroke="#000" stroke-width="2.2"/>
<line x1="311.53" y1="857.1" x2="311.53" y2="868.3" stroke="#000" stroke-width="2.2"/>
<line x1="341.68" y1="857.1" x2="341.68" y2="868.3" stroke="#000" stroke-width="2.2"/>
<line x1="371.82" y1="857.1" x2="371.82" y2="868.3" stroke="#000" stroke-width="2.2"/>
<line x1="401.96" y1="857.1" x2="401.96" y2="868.3" stroke="#000" stroke-width="2.2"/>
<line x1="432.11" y1="857.1" x2="432.11" y2="868.3" stroke="#000" stroke-width="2.2"/>
<line x1="462.25" y1="857.1" x2="462.25" y2="868.3" stroke="#000" stroke-width="2.2"/>
<line x1="492.39" y1="857.1" x2="492.39" y2="868.3" stroke="#000" stroke-width="2.2"/>
<line x1="522.53" y1="857.1" x2="522.53" y2="868.3" stroke="#000" stroke-width="2.2"/>
<line x1="552.68" y1="857.1" x2="552.68" y2="868.3" stroke="#000" stroke-width="2.2"/>
<line x1="582.82" y1="857.1" x2="582.82" y2="868.3" stroke="#000" stroke-width="2.2"/>
<line x1="612.96" y1="857.1" x2="612.96" y2="868.3" stroke="#000" stroke-width="2.2"/>
<line x1="643.11" y1="857.1" x2="643.11" y2="868.3" stroke="#000" stroke-width="2.2"/>
<line x1="673.25" y1="857.1" x2="673.25" y2="868.3" stroke="#000" stroke-width="2.2"/>
<line x1="703.39" y1="857.1" x2="703.39" y2="868.3" stroke="#000" stroke-width="2.2"/>
<line x1="733.54" y1="857.1" x2="733.54" y2="868.3" stroke="#000" stroke-width="2.2"/>
<line x1="763.68" y1="857.1" x2="763.68" y2="868.3" stroke="#000" stroke-width="2.2"/>
<line x1="793.82" y1="857.1" x2="793.82" y2="868.3" stroke="#000" stroke-width="2.2"/>
<line x1="823.97" y1="857.1" x2="823.97" y2="868.3" stroke="#000" stroke-width="2.2"/>
<line x1="854.11" y1="857.1" x2="854.11" y2="868.3" stroke="#000" stroke-width="2.2"/>
<line x1="884.25" y1="857.1" x2="884.25" y2="868.3" stroke="#000" stroke-width="2.2"/>
<line x1="914.39" y1="857.1" x2="914.39" y2="868.3" stroke="#000" stroke-width="2.2"/>
<line x1="944.54" y1="857.1" x2="944.54" y2="868.3" stroke="#000" stroke-width="2.2"/>
<line x1="974.68" y1="857.1" x2="974.68" y2="868.3" stroke="#000" stroke-width="2.2"/>
<line x1="1004.82" y1="857.1" x2="1004.82" y2="868.3" stroke="#000" stroke-width="2.2"/>
<line x1="1034.97" y1="857.1" x2="1034.97" y2="868.3" stroke="#000" stroke-width="2.2"/>
<line x1="1065.11" y1="857.1" x2="1065.11" y2="868.3" stroke="#000" stroke-width="2.2"/>
<line x1="1095.25" y1="857.1" x2="1095.25" y2="868.3" stroke="#000" stroke-width="2.2"/>
<line x1="1125.4" y1="857.1" x2="1125.4" y2="868.3" stroke="#000" stroke-width="2.2"/>
<line x1="1155.54" y1="857.1" x2="1155.54" y2="868.3" stroke="#000" stroke-width="2.2"/>
<line x1="1185.68" y1="857.1" x2="1185.68" y2="868.3" stroke="#000" stroke-width="2.2"/>
<line x1="1215.83" y1="857.1" x2="1215.83" y2="868.3" stroke="#000" stroke-width="2.2"/>
<line x1="1245.97" y1="857.1" x2="1245.97" y2="868.3" stroke="#000" stroke-width="2.2"/>
<text x="99.6" y="910.5" font-size="28.5" text-anchor="middle">1980</text>
<text x="249.8" y="910.5" font-size="28.5" text-anchor="middle">1985</text>
<text x="400.6" y="910.5" font-size="28.5" text-anchor="middle">1990</text>
<text x="549.3" y="910.5" font-size="28.5" text-anchor="middle">1995</text>
<text x="701.8" y="910.5" font-size="28.5" text-anchor="middle">2000</text>
<text x="850.5" y="910.5" font-size="28.5" text-anchor="middle">2005</text>
<text x="1005.3" y="910.5" font-size="28.5" text-anchor="middle">2010</text>
<text x="1152.7" y="910.5" font-size="28.5" text-anchor="middle">2015</text>
<text x="1243.7" y="910.5" font-size="28.5" text-anchor="middle">2018</text>
<text x="680.4" y="956" font-size="41.5" text-anchor="middle">year</text>
<text x="683.2" y="989.3" font-size="34" text-anchor="middle">(b)</text>
<text transform="translate(34,702) rotate(-90)" font-size="40" text-anchor="middle">month</text>
<g shape-rendering="crispEdges">
<rect x="1295.1" y="845.95" width="44.8" height="10.85" fill="#33ffff"/>
<rect x="1295.1" y="835.1" width="44.8" height="10.85" fill="#33f6f6"/>
<rect x="1295.1" y="824.25" width="44.8" height="10.85" fill="#30e4e4"/>
<rect x="1295.1" y="813.4" width="44.8" height="10.85" fill="#30d4d4"/>
<rect x="1295.1" y="802.55" width="44.8" height="10.85" fill="#30cccc"/>
<rect x="1295.1" y="791.7" width="44.8" height="10.85" fill="#30b8b8"/>
<rect x="1295.1" y="780.85" width="44.8" height="10.85" fill="#33a8a8"/>
<rect x="1295.1" y="770" width="44.8" height="10.85" fill="#38a0a0"/>
<rect x="1295.1" y="759.15" width="44.8" height="10.85" fill="#3a8a8a"/>
<rect x="1295.1" y="748.3" width="44.8" height="10.85" fill="#3a8080"/>
<rect x="1295.1" y="737.45" width="44.8" height="10.85" fill="#3a7070"/>
<rect x="1295.1" y="726.6" width="44.8" height="10.85" fill="#3a6a6a"/>
<rect x="1295.1" y="715.75" width="44.8" height="10.85" fill="#3a5858"/>
<rect x="1295.1" y="704.9" width="44.8" height="10.85" fill="#3a4a4a"/>
<rect x="1295.1" y="694.05" width="44.8" height="10.85" fill="#424242"/>
<rect x="1295.1" y="683.2" width="44.8" height="10.85" fill="#424242"/>
<rect x="1295.1" y="672.35" width="44.8" height="10.85" fill="#483838"/>
<rect x="1295.1" y="661.5" width="44.8" height="10.85" fill="#553030"/>
<rect x="1295.1" y="650.65" width="44.8" height="10.85" fill="#6a3030"/>
<rect x="1295.1" y="639.8" width="44.8" height="10.85" fill="#702828"/>
<rect x="1295.1" y="628.95" width="44.8" height="10.85" fill="#852828"/>
<rect x="1295.1" y="618.1" width="44.8" height="10.85" fill="#902020"/>
<rect x="1295.1" y="607.25" width="44.8" height="10.85" fill="#a02020"/>
<rect x="1295.1" y="596.4" width="44.8" height="10.85" fill="#a81a1a"/>
<rect x="1295.1" y="585.55" width="44.8" height="10.85" fill="#bb1212"/>
<rect x="1295.1" y="574.7" width="44.8" height="10.85" fill="#cc1010"/>
<rect x="1295.1" y="563.85" width="44.8" height="10.85" fill="#d40808"/>
<rect x="1295.1" y="553" width="44.8" height="10.85" fill="#e40808"/>
<rect x="1295.1" y="542.15" width="44.8" height="10.85" fill="#f20000"/>
<rect x="1295.1" y="531.3" width="44.8" height="10.85" fill="#ff0000"/>
</g>
<rect x="1295.1" y="531.3" width="44.8" height="325.5" rx="1.5" fill="none" stroke="#000" stroke-width="3"/>
<line x1="1341" y1="530.7" x2="1352.3" y2="530.7" stroke="#000" stroke-width="2.2"/>
<text x="1360" y="537.8" font-size="18.2" text-anchor="start">3.540</text>
<line x1="1341" y1="596" x2="1352.3" y2="596" stroke="#000" stroke-width="2.2"/>
<text x="1360" y="603.1" font-size="18.2" text-anchor="start">2.472</text>
<line x1="1341" y1="661.3" x2="1352.3" y2="661.3" stroke="#000" stroke-width="2.2"/>
<text x="1360" y="668.4" font-size="18.2" text-anchor="start">1.404</text>
<line x1="1341" y1="726.5" x2="1352.3" y2="726.5" stroke="#000" stroke-width="2.2"/>
<text x="1360" y="733.6" font-size="18.2" text-anchor="start">0.3360</text>
<line x1="1341" y1="791.8" x2="1352.3" y2="791.8" stroke="#000" stroke-width="2.2"/>
<text x="1360" y="798.9" font-size="18.2" text-anchor="start">-0.7320</text>
<line x1="1341" y1="857.1" x2="1352.3" y2="857.1" stroke="#000" stroke-width="2.2"/>
<text x="1360" y="864.2" font-size="18.2" text-anchor="start">-1.800</text>
<g shape-rendering="crispEdges">
<rect x="88.3" y="1047.9" width="15.37" height="17" fill="#3a8080"/>
<rect x="103.67" y="1047.9" width="30.74" height="17" fill="#30d4d4"/>
<rect x="134.41" y="1047.9" width="30.74" height="17" fill="#3a6666"/>
<rect x="165.15" y="1047.9" width="30.74" height="17" fill="#3a8080"/>
<rect x="195.89" y="1047.9" width="30.74" height="17" fill="#3a9090"/>
<rect x="226.63" y="1047.9" width="30.74" height="17" fill="#33bebe"/>
<rect x="257.37" y="1047.9" width="92.22" height="17" fill="#30d4d4"/>
<rect x="349.59" y="1047.9" width="61.48" height="17" fill="#38a3a3"/>
<rect x="411.06" y="1047.9" width="30.74" height="17" fill="#3a6666"/>
<rect x="441.8" y="1047.9" width="30.74" height="17" fill="#3a7070"/>
<rect x="472.54" y="1047.9" width="30.74" height="17" fill="#33bebe"/>
<rect x="503.28" y="1047.9" width="30.74" height="17" fill="#5a3030"/>
<rect x="534.02" y="1047.9" width="30.74" height="17" fill="#30d4d4"/>
<rect x="564.76" y="1047.9" width="30.74" height="17" fill="#33bebe"/>
<rect x="595.5" y="1047.9" width="30.74" height="17" fill="#3b4a4a"/>
<rect x="626.24" y="1047.9" width="30.74" height="17" fill="#38a3a3"/>
<rect x="656.98" y="1047.9" width="30.74" height="17" fill="#30d4d4"/>
<rect x="687.72" y="1047.9" width="30.74" height="17" fill="#33bebe"/>
<rect x="718.46" y="1047.9" width="30.74" height="17" fill="#3a7070"/>
<rect x="749.2" y="1047.9" width="30.74" height="17" fill="#6c2d2d"/>
<rect x="779.94" y="1047.9" width="30.74" height="17" fill="#33bebe"/>
<rect x="810.68" y="1047.9" width="30.74" height="17" fill="#3a9090"/>
<rect x="841.42" y="1047.9" width="30.74" height="17" fill="#3a7070"/>
<rect x="872.16" y="1047.9" width="30.74" height="17" fill="#30d4d4"/>
<rect x="902.9" y="1047.9" width="30.74" height="17" fill="#3a5757"/>
<rect x="933.64" y="1047.9" width="30.74" height="17" fill="#30d4d4"/>
<rect x="964.38" y="1047.9" width="30.74" height="17" fill="#33bebe"/>
<rect x="995.11" y="1047.9" width="30.74" height="17" fill="#4a3838"/>
<rect x="1025.85" y="1047.9" width="30.74" height="17" fill="#33bebe"/>
<rect x="1056.59" y="1047.9" width="30.74" height="17" fill="#3a5757"/>
<rect x="1087.33" y="1047.9" width="30.74" height="17" fill="#6c2d2d"/>
<rect x="1118.07" y="1047.9" width="30.74" height="17" fill="#3a7070"/>
<rect x="1148.81" y="1047.9" width="30.74" height="17" fill="#d80a0a"/>
<rect x="1179.55" y="1047.9" width="61.48" height="17" fill="#33adad"/>
<rect x="1241.03" y="1047.9" width="15.37" height="17" fill="#3a7070"/>
<rect x="88.3" y="1064.9" width="15.37" height="34.01" fill="#30d4d4"/>
<rect x="103.67" y="1064.9" width="30.74" height="34.01" fill="#3a5757"/>
<rect x="134.41" y="1064.9" width="30.74" height="34.01" fill="#4a3838"/>
<rect x="165.15" y="1064.9" width="30.74" height="34.01" fill="#33adad"/>
<rect x="195.89" y="1064.9" width="30.74" height="34.01" fill="#38a3a3"/>
<rect x="226.63" y="1064.9" width="30.74" height="34.01" fill="#3a7070"/>
<rect x="257.37" y="1064.9" width="30.74" height="34.01" fill="#38a3a3"/>
<rect x="288.11" y="1064.9" width="30.74" height="34.01" fill="#5a3030"/>
<rect x="318.85" y="1064.9" width="61.48" height="34.01" fill="#30d4d4"/>
<rect x="380.33" y="1064.9" width="30.74" height="34.01" fill="#424242"/>
<rect x="411.06" y="1064.9" width="30.74" height="34.01" fill="#3a6666"/>
<rect x="441.8" y="1064.9" width="30.74" height="34.01" fill="#30d4d4"/>
<rect x="472.54" y="1064.9" width="30.74" height="34.01" fill="#38a3a3"/>
<rect x="503.28" y="1064.9" width="30.74" height="34.01" fill="#33adad"/>
<rect x="534.02" y="1064.9" width="30.74" height="34.01" fill="#33bebe"/>
<rect x="564.76" y="1064.9" width="61.48" height="34.01" fill="#30d4d4"/>
<rect x="626.24" y="1064.9" width="30.74" height="34.01" fill="#33adad"/>
<rect x="656.98" y="1064.9" width="30.74" height="34.01" fill="#3a7070"/>
<rect x="687.72" y="1064.9" width="30.74" height="34.01" fill="#30d4d4"/>
<rect x="718.46" y="1064.9" width="30.74" height="34.01" fill="#3a5757"/>
<rect x="749.2" y="1064.9" width="30.74" height="34.01" fill="#38a3a3"/>
<rect x="779.94" y="1064.9" width="30.74" height="34.01" fill="#30d4d4"/>
<rect x="810.68" y="1064.9" width="61.48" height="34.01" fill="#33adad"/>
<rect x="872.16" y="1064.9" width="30.74" height="34.01" fill="#424242"/>
<rect x="902.9" y="1064.9" width="30.74" height="34.01" fill="#33adad"/>
<rect x="933.64" y="1064.9" width="30.74" height="34.01" fill="#424242"/>
<rect x="964.38" y="1064.9" width="30.74" height="34.01" fill="#33bebe"/>
<rect x="995.11" y="1064.9" width="61.48" height="34.01" fill="#30d4d4"/>
<rect x="1056.59" y="1064.9" width="30.74" height="34.01" fill="#5a3030"/>
<rect x="1087.33" y="1064.9" width="30.74" height="34.01" fill="#424242"/>
<rect x="1118.07" y="1064.9" width="30.74" height="34.01" fill="#3a5757"/>
<rect x="1148.81" y="1064.9" width="30.74" height="34.01" fill="#d80a0a"/>
<rect x="1179.55" y="1064.9" width="30.74" height="34.01" fill="#3a8080"/>
<rect x="1210.29" y="1064.9" width="30.74" height="34.01" fill="#3a7070"/>
<rect x="1241.03" y="1064.9" width="15.37" height="34.01" fill="#3a8080"/>
<rect x="88.3" y="1098.91" width="15.37" height="34.01" fill="#38a3a3"/>
<rect x="103.67" y="1098.91" width="30.74" height="34.01" fill="#3a6666"/>
<rect x="134.41" y="1098.91" width="30.74" height="34.01" fill="#38a3a3"/>
<rect x="165.15" y="1098.91" width="30.74" height="34.01" fill="#3a8080"/>
<rect x="195.89" y="1098.91" width="30.74" height="34.01" fill="#38a3a3"/>
<rect x="226.63" y="1098.91" width="30.74" height="34.01" fill="#33adad"/>
<rect x="257.37" y="1098.91" width="30.74" height="34.01" fill="#38a3a3"/>
<rect x="288.11" y="1098.91" width="30.74" height="34.01" fill="#33adad"/>
<rect x="318.85" y="1098.91" width="30.74" height="34.01" fill="#3a9090"/>
<rect x="349.59" y="1098.91" width="30.74" height="34.01" fill="#33bebe"/>
<rect x="380.33" y="1098.91" width="30.74" height="34.01" fill="#3a6666"/>
<rect x="411.06" y="1098.91" width="30.74" height="34.01" fill="#33bebe"/>
<rect x="441.8" y="1098.91" width="30.74" height="34.01" fill="#30d4d4"/>
<rect x="472.54" y="1098.91" width="30.74" height="34.01" fill="#3a9090"/>
<rect x="503.28" y="1098.91" width="30.74" height="34.01" fill="#3a6666"/>
<rect x="534.02" y="1098.91" width="30.74" height="34.01" fill="#4a3838"/>
<rect x="564.76" y="1098.91" width="30.74" height="34.01" fill="#33bebe"/>
<rect x="595.5" y="1098.91" width="30.74" height="34.01" fill="#3a7070"/>
<rect x="626.24" y="1098.91" width="30.74" height="34.01" fill="#33adad"/>
<rect x="656.98" y="1098.91" width="30.74" height="34.01" fill="#3a5757"/>
<rect x="687.72" y="1098.91" width="30.74" height="34.01" fill="#6c2d2d"/>
<rect x="718.46" y="1098.91" width="30.74" height="34.01" fill="#424242"/>
<rect x="749.2" y="1098.91" width="30.74" height="34.01" fill="#6c2d2d"/>
<rect x="779.94" y="1098.91" width="30.74" height="34.01" fill="#33bebe"/>
<rect x="810.68" y="1098.91" width="30.74" height="34.01" fill="#30d4d4"/>
<rect x="841.42" y="1098.91" width="30.74" height="34.01" fill="#33bebe"/>
<rect x="872.16" y="1098.91" width="61.48" height="34.01" fill="#30d4d4"/>
<rect x="933.64" y="1098.91" width="30.74" height="34.01" fill="#3a8080"/>
<rect x="964.38" y="1098.91" width="61.48" height="34.01" fill="#33bebe"/>
<rect x="1025.85" y="1098.91" width="30.74" height="34.01" fill="#3a6666"/>
<rect x="1056.59" y="1098.91" width="30.74" height="34.01" fill="#38a3a3"/>
<rect x="1087.33" y="1098.91" width="30.74" height="34.01" fill="#33bebe"/>
<rect x="1118.07" y="1098.91" width="30.74" height="34.01" fill="#30d4d4"/>
<rect x="1148.81" y="1098.91" width="30.74" height="34.01" fill="#ff0000"/>
<rect x="1179.55" y="1098.91" width="30.74" height="34.01" fill="#38a3a3"/>
<rect x="1210.29" y="1098.91" width="30.74" height="34.01" fill="#30d4d4"/>
<rect x="1241.03" y="1098.91" width="15.37" height="34.01" fill="#424242"/>
<rect x="88.3" y="1132.92" width="15.37" height="34.01" fill="#424242"/>
<rect x="103.67" y="1132.92" width="30.74" height="34.01" fill="#3a5757"/>
<rect x="134.41" y="1132.92" width="30.74" height="34.01" fill="#3a7070"/>
<rect x="165.15" y="1132.92" width="30.74" height="34.01" fill="#3a9090"/>
<rect x="195.89" y="1132.92" width="30.74" height="34.01" fill="#33adad"/>
<rect x="226.63" y="1132.92" width="30.74" height="34.01" fill="#4a3838"/>
<rect x="257.37" y="1132.92" width="30.74" height="34.01" fill="#33bebe"/>
<rect x="288.11" y="1132.92" width="30.74" height="34.01" fill="#3a8080"/>
<rect x="318.85" y="1132.92" width="30.74" height="34.01" fill="#33bebe"/>
<rect x="349.59" y="1132.92" width="30.74" height="34.01" fill="#30d4d4"/>
<rect x="380.33" y="1132.92" width="30.74" height="34.01" fill="#3a8080"/>
<rect x="411.06" y="1132.92" width="30.74" height="34.01" fill="#33fafa"/>
<rect x="441.8" y="1132.92" width="30.74" height="34.01" fill="#38a3a3"/>
<rect x="472.54" y="1132.92" width="30.74" height="34.01" fill="#4a3838"/>
<rect x="503.28" y="1132.92" width="30.74" height="34.01" fill="#3a8080"/>
<rect x="534.02" y="1132.92" width="30.74" height="34.01" fill="#3b4a4a"/>
<rect x="564.76" y="1132.92" width="30.74" height="34.01" fill="#3a8080"/>
<rect x="595.5" y="1132.92" width="30.74" height="34.01" fill="#3a7070"/>
<rect x="626.24" y="1132.92" width="30.74" height="34.01" fill="#30d4d4"/>
<rect x="656.98" y="1132.92" width="30.74" height="34.01" fill="#33adad"/>
<rect x="687.72" y="1132.92" width="30.74" height="34.01" fill="#33bebe"/>
<rect x="718.46" y="1132.92" width="30.74" height="34.01" fill="#30e8e8"/>
<rect x="749.2" y="1132.92" width="30.74" height="34.01" fill="#33bebe"/>
<rect x="779.94" y="1132.92" width="30.74" height="34.01" fill="#d80a0a"/>
<rect x="810.68" y="1132.92" width="61.48" height="34.01" fill="#30e8e8"/>
<rect x="872.16" y="1132.92" width="30.74" height="34.01" fill="#33adad"/>
<rect x="902.9" y="1132.92" width="30.74" height="34.01" fill="#38a3a3"/>
<rect x="933.64" y="1132.92" width="30.74" height="34.01" fill="#3a5757"/>
<rect x="964.38" y="1132.92" width="30.74" height="34.01" fill="#30d4d4"/>
<rect x="995.11" y="1132.92" width="30.74" height="34.01" fill="#3b4a4a"/>
<rect x="1025.85" y="1132.92" width="30.74" height="34.01" fill="#3a9090"/>
<rect x="1056.59" y="1132.92" width="30.74" height="34.01" fill="#3a6666"/>
<rect x="1087.33" y="1132.92" width="30.74" height="34.01" fill="#3b4a4a"/>
<rect x="1118.07" y="1132.92" width="30.74" height="34.01" fill="#30d4d4"/>
<rect x="1148.81" y="1132.92" width="30.74" height="34.01" fill="#3a6666"/>
<rect x="1179.55" y="1132.92" width="30.74" height="34.01" fill="#3b4a4a"/>
<rect x="1210.29" y="1132.92" width="30.74" height="34.01" fill="#33bebe"/>
<rect x="1241.03" y="1132.92" width="15.37" height="34.01" fill="#424242"/>
<rect x="88.3" y="1166.93" width="15.37" height="34.01" fill="#3a7070"/>
<rect x="103.67" y="1166.93" width="30.74" height="34.01" fill="#33bebe"/>
<rect x="134.41" y="1166.93" width="30.74" height="34.01" fill="#3a6666"/>
<rect x="165.15" y="1166.93" width="30.74" height="34.01" fill="#38a3a3"/>
<rect x="195.89" y="1166.93" width="61.48" height="34.01" fill="#3a8080"/>
<rect x="257.37" y="1166.93" width="30.74" height="34.01" fill="#33bebe"/>
<rect x="288.11" y="1166.93" width="30.74" height="34.01" fill="#3a6666"/>
<rect x="318.85" y="1166.93" width="30.74" height="34.01" fill="#424242"/>
<rect x="349.59" y="1166.93" width="30.74" height="34.01" fill="#38a3a3"/>
<rect x="380.33" y="1166.93" width="30.74" height="34.01" fill="#33fafa"/>
<rect x="411.06" y="1166.93" width="30.74" height="34.01" fill="#33adad"/>
<rect x="441.8" y="1166.93" width="30.74" height="34.01" fill="#30e8e8"/>
<rect x="472.54" y="1166.93" width="30.74" height="34.01" fill="#38a3a3"/>
<rect x="503.28" y="1166.93" width="30.74" height="34.01" fill="#d80a0a"/>
<rect x="534.02" y="1166.93" width="30.74" height="34.01" fill="#3a6666"/>
<rect x="564.76" y="1166.93" width="30.74" height="34.01" fill="#3a7070"/>
<rect x="595.5" y="1166.93" width="30.74" height="34.01" fill="#38a3a3"/>
<rect x="626.24" y="1166.93" width="30.74" height="34.01" fill="#30d4d4"/>
<rect x="656.98" y="1166.93" width="30.74" height="34.01" fill="#a81a1a"/>
<rect x="687.72" y="1166.93" width="30.74" height="34.01" fill="#30d4d4"/>
<rect x="718.46" y="1166.93" width="30.74" height="34.01" fill="#33adad"/>
<rect x="749.2" y="1166.93" width="30.74" height="34.01" fill="#3a5757"/>
<rect x="779.94" y="1166.93" width="30.74" height="34.01" fill="#4a3838"/>
<rect x="810.68" y="1166.93" width="30.74" height="34.01" fill="#38a3a3"/>
<rect x="841.42" y="1166.93" width="61.48" height="34.01" fill="#3a9090"/>
<rect x="902.9" y="1166.93" width="30.74" height="34.01" fill="#38a3a3"/>
<rect x="933.64" y="1166.93" width="61.48" height="34.01" fill="#33adad"/>
<rect x="995.11" y="1166.93" width="92.22" height="34.01" fill="#30d4d4"/>
<rect x="1087.33" y="1166.93" width="30.74" height="34.01" fill="#6c2d2d"/>
<rect x="1118.07" y="1166.93" width="30.74" height="34.01" fill="#3a5757"/>
<rect x="1148.81" y="1166.93" width="30.74" height="34.01" fill="#33bebe"/>
<rect x="1179.55" y="1166.93" width="30.74" height="34.01" fill="#3a7070"/>
<rect x="1210.29" y="1166.93" width="30.74" height="34.01" fill="#33bebe"/>
<rect x="1241.03" y="1166.93" width="15.37" height="34.01" fill="#3a7070"/>
<rect x="88.3" y="1200.94" width="46.11" height="34.01" fill="#3a5757"/>
<rect x="134.41" y="1200.94" width="30.74" height="34.01" fill="#33bebe"/>
<rect x="165.15" y="1200.94" width="30.74" height="34.01" fill="#30d4d4"/>
<rect x="195.89" y="1200.94" width="30.74" height="34.01" fill="#33bebe"/>
<rect x="226.63" y="1200.94" width="30.74" height="34.01" fill="#30d4d4"/>
<rect x="257.37" y="1200.94" width="30.74" height="34.01" fill="#3a8080"/>
<rect x="288.11" y="1200.94" width="30.74" height="34.01" fill="#3a7070"/>
<rect x="318.85" y="1200.94" width="30.74" height="34.01" fill="#3a9090"/>
<rect x="349.59" y="1200.94" width="30.74" height="34.01" fill="#33adad"/>
<rect x="380.33" y="1200.94" width="30.74" height="34.01" fill="#30d4d4"/>
<rect x="411.06" y="1200.94" width="30.74" height="34.01" fill="#38a3a3"/>
<rect x="441.8" y="1200.94" width="30.74" height="34.01" fill="#3a5757"/>
<rect x="472.54" y="1200.94" width="30.74" height="34.01" fill="#33adad"/>
<rect x="503.28" y="1200.94" width="30.74" height="34.01" fill="#912020"/>
<rect x="534.02" y="1200.94" width="30.74" height="34.01" fill="#30d4d4"/>
<rect x="564.76" y="1200.94" width="30.74" height="34.01" fill="#3a7070"/>
<rect x="595.5" y="1200.94" width="30.74" height="34.01" fill="#6c2d2d"/>
<rect x="626.24" y="1200.94" width="30.74" height="34.01" fill="#33adad"/>
<rect x="656.98" y="1200.94" width="30.74" height="34.01" fill="#3a8080"/>
<rect x="687.72" y="1200.94" width="30.74" height="34.01" fill="#30d4d4"/>
<rect x="718.46" y="1200.94" width="30.74" height="34.01" fill="#3a7070"/>
<rect x="749.2" y="1200.94" width="30.74" height="34.01" fill="#3b4a4a"/>
<rect x="779.94" y="1200.94" width="30.74" height="34.01" fill="#33fafa"/>
<rect x="810.68" y="1200.94" width="30.74" height="34.01" fill="#5a3030"/>
<rect x="841.42" y="1200.94" width="30.74" height="34.01" fill="#33adad"/>
<rect x="872.16" y="1200.94" width="30.74" height="34.01" fill="#be1212"/>
<rect x="902.9" y="1200.94" width="30.74" height="34.01" fill="#30d4d4"/>
<rect x="933.64" y="1200.94" width="30.74" height="34.01" fill="#38a3a3"/>
<rect x="964.38" y="1200.94" width="30.74" height="34.01" fill="#3a8080"/>
<rect x="995.11" y="1200.94" width="30.74" height="34.01" fill="#33adad"/>
<rect x="1025.85" y="1200.94" width="30.74" height="34.01" fill="#33fafa"/>
<rect x="1056.59" y="1200.94" width="30.74" height="34.01" fill="#3a8080"/>
<rect x="1087.33" y="1200.94" width="30.74" height="34.01" fill="#33adad"/>
<rect x="1118.07" y="1200.94" width="30.74" height="34.01" fill="#3a9090"/>
<rect x="1148.81" y="1200.94" width="30.74" height="34.01" fill="#424242"/>
<rect x="1179.55" y="1200.94" width="30.74" height="34.01" fill="#3a8080"/>
<rect x="1210.29" y="1200.94" width="30.74" height="34.01" fill="#3a7070"/>
<rect x="1241.03" y="1200.94" width="15.37" height="34.01" fill="#3a9090"/>
<rect x="88.3" y="1234.95" width="15.37" height="34.01" fill="#30d4d4"/>
<rect x="103.67" y="1234.95" width="30.74" height="34.01" fill="#3a9090"/>
<rect x="134.41" y="1234.95" width="30.74" height="34.01" fill="#30d4d4"/>
<rect x="165.15" y="1234.95" width="30.74" height="34.01" fill="#38a3a3"/>
<rect x="195.89" y="1234.95" width="30.74" height="34.01" fill="#33fafa"/>
<rect x="226.63" y="1234.95" width="30.74" height="34.01" fill="#30d4d4"/>
<rect x="257.37" y="1234.95" width="30.74" height="34.01" fill="#3b4a4a"/>
<rect x="288.11" y="1234.95" width="30.74" height="34.01" fill="#38a3a3"/>
<rect x="318.85" y="1234.95" width="61.48" height="34.01" fill="#30d4d4"/>
<rect x="380.33" y="1234.95" width="30.74" height="34.01" fill="#33fafa"/>
<rect x="411.06" y="1234.95" width="30.74" height="34.01" fill="#30d4d4"/>
<rect x="441.8" y="1234.95" width="30.74" height="34.01" fill="#33bebe"/>
<rect x="472.54" y="1234.95" width="30.74" height="34.01" fill="#4a3838"/>
<rect x="503.28" y="1234.95" width="30.74" height="34.01" fill="#3a5757"/>
<rect x="534.02" y="1234.95" width="30.74" height="34.01" fill="#424242"/>
<rect x="564.76" y="1234.95" width="30.74" height="34.01" fill="#30d4d4"/>
<rect x="595.5" y="1234.95" width="30.74" height="34.01" fill="#33adad"/>
<rect x="626.24" y="1234.95" width="61.48" height="34.01" fill="#3a8080"/>
<rect x="687.72" y="1234.95" width="30.74" height="34.01" fill="#33bebe"/>
<rect x="718.46" y="1234.95" width="30.74" height="34.01" fill="#3b4a4a"/>
<rect x="749.2" y="1234.95" width="30.74" height="34.01" fill="#3a8080"/>
<rect x="779.94" y="1234.95" width="30.74" height="34.01" fill="#3a6666"/>
<rect x="810.68" y="1234.95" width="30.74" height="34.01" fill="#3a8080"/>
<rect x="841.42" y="1234.95" width="30.74" height="34.01" fill="#be1212"/>
<rect x="872.16" y="1234.95" width="30.74" height="34.01" fill="#38a3a3"/>
<rect x="902.9" y="1234.95" width="30.74" height="34.01" fill="#424242"/>
<rect x="933.64" y="1234.95" width="30.74" height="34.01" fill="#3a5757"/>
<rect x="964.38" y="1234.95" width="30.74" height="34.01" fill="#33adad"/>
<rect x="995.11" y="1234.95" width="30.74" height="34.01" fill="#4a3838"/>
<rect x="1025.85" y="1234.95" width="30.74" height="34.01" fill="#30d4d4"/>
<rect x="1056.59" y="1234.95" width="30.74" height="34.01" fill="#424242"/>
<rect x="1087.33" y="1234.95" width="30.74" height="34.01" fill="#33bebe"/>
<rect x="1118.07" y="1234.95" width="30.74" height="34.01" fill="#6c2d2d"/>
<rect x="1148.81" y="1234.95" width="30.74" height="34.01" fill="#3a9090"/>
<rect x="1179.55" y="1234.95" width="30.74" height="34.01" fill="#3a7070"/>
<rect x="1210.29" y="1234.95" width="30.74" height="34.01" fill="#3a9090"/>
<rect x="1241.03" y="1234.95" width="15.37" height="34.01" fill="#30d4d4"/>
<rect x="88.3" y="1268.96" width="15.37" height="34.01" fill="#822828"/>
<rect x="103.67" y="1268.96" width="30.74" height="34.01" fill="#3b4a4a"/>
<rect x="134.41" y="1268.96" width="30.74" height="34.01" fill="#5a3030"/>
<rect x="165.15" y="1268.96" width="30.74" height="34.01" fill="#3a8080"/>
<rect x="195.89" y="1268.96" width="30.74" height="34.01" fill="#30d4d4"/>
<rect x="226.63" y="1268.96" width="30.74" height="34.01" fill="#3a6666"/>
<rect x="257.37" y="1268.96" width="30.74" height="34.01" fill="#33adad"/>
<rect x="288.11" y="1268.96" width="30.74" height="34.01" fill="#3b4a4a"/>
<rect x="318.85" y="1268.96" width="30.74" height="34.01" fill="#33fafa"/>
<rect x="349.59" y="1268.96" width="30.74" height="34.01" fill="#3a9090"/>
<rect x="380.33" y="1268.96" width="30.74" height="34.01" fill="#30d4d4"/>
<rect x="411.06" y="1268.96" width="30.74" height="34.01" fill="#33bebe"/>
<rect x="441.8" y="1268.96" width="30.74" height="34.01" fill="#3b4a4a"/>
<rect x="472.54" y="1268.96" width="30.74" height="34.01" fill="#3a8080"/>
<rect x="503.28" y="1268.96" width="30.74" height="34.01" fill="#38a3a3"/>
<rect x="534.02" y="1268.96" width="30.74" height="34.01" fill="#33adad"/>
<rect x="564.76" y="1268.96" width="30.74" height="34.01" fill="#3a9090"/>
<rect x="595.5" y="1268.96" width="30.74" height="34.01" fill="#30d4d4"/>
<rect x="626.24" y="1268.96" width="30.74" height="34.01" fill="#38a3a3"/>
<rect x="656.98" y="1268.96" width="30.74" height="34.01" fill="#3a6666"/>
<rect x="687.72" y="1268.96" width="30.74" height="34.01" fill="#3a5757"/>
<rect x="718.46" y="1268.96" width="30.74" height="34.01" fill="#3a8080"/>
<rect x="749.2" y="1268.96" width="30.74" height="34.01" fill="#3a9090"/>
<rect x="779.94" y="1268.96" width="30.74" height="34.01" fill="#30d4d4"/>
<rect x="810.68" y="1268.96" width="30.74" height="34.01" fill="#6c2d2d"/>
<rect x="841.42" y="1268.96" width="30.74" height="34.01" fill="#38a3a3"/>
<rect x="872.16" y="1268.96" width="30.74" height="34.01" fill="#3a6666"/>
<rect x="902.9" y="1268.96" width="30.74" height="34.01" fill="#33fafa"/>
<rect x="933.64" y="1268.96" width="30.74" height="34.01" fill="#3a5757"/>
<rect x="964.38" y="1268.96" width="30.74" height="34.01" fill="#33adad"/>
<rect x="995.11" y="1268.96" width="30.74" height="34.01" fill="#30d4d4"/>
<rect x="1025.85" y="1268.96" width="30.74" height="34.01" fill="#33bebe"/>
<rect x="1056.59" y="1268.96" width="30.74" height="34.01" fill="#30e8e8"/>
<rect x="1087.33" y="1268.96" width="30.74" height="34.01" fill="#33bebe"/>
<rect x="1118.07" y="1268.96" width="30.74" height="34.01" fill="#822828"/>
<rect x="1148.81" y="1268.96" width="30.74" height="34.01" fill="#424242"/>
<rect x="1179.55" y="1268.96" width="30.74" height="34.01" fill="#5a3030"/>
<rect x="1210.29" y="1268.96" width="30.74" height="34.01" fill="#30d4d4"/>
<rect x="1241.03" y="1268.96" width="15.37" height="34.01" fill="#3a9090"/>
<rect x="88.3" y="1302.97" width="15.37" height="34.01" fill="#3a8080"/>
<rect x="103.67" y="1302.97" width="30.74" height="34.01" fill="#a81a1a"/>
<rect x="134.41" y="1302.97" width="61.48" height="34.01" fill="#3a9090"/>
<rect x="195.89" y="1302.97" width="30.74" height="34.01" fill="#4a3838"/>
<rect x="226.63" y="1302.97" width="92.22" height="34.01" fill="#33adad"/>
<rect x="318.85" y="1302.97" width="30.74" height="34.01" fill="#30d4d4"/>
<rect x="349.59" y="1302.97" width="30.74" height="34.01" fill="#3b4a4a"/>
<rect x="380.33" y="1302.97" width="30.74" height="34.01" fill="#33bebe"/>
<rect x="411.06" y="1302.97" width="30.74" height="34.01" fill="#33fafa"/>
<rect x="441.8" y="1302.97" width="30.74" height="34.01" fill="#30d4d4"/>
<rect x="472.54" y="1302.97" width="61.48" height="34.01" fill="#3a8080"/>
<rect x="534.02" y="1302.97" width="30.74" height="34.01" fill="#30d4d4"/>
<rect x="564.76" y="1302.97" width="30.74" height="34.01" fill="#3a7070"/>
<rect x="595.5" y="1302.97" width="30.74" height="34.01" fill="#5a3030"/>
<rect x="626.24" y="1302.97" width="30.74" height="34.01" fill="#3b4a4a"/>
<rect x="656.98" y="1302.97" width="30.74" height="34.01" fill="#3a7070"/>
<rect x="687.72" y="1302.97" width="61.48" height="34.01" fill="#424242"/>
<rect x="749.2" y="1302.97" width="30.74" height="34.01" fill="#30d4d4"/>
<rect x="779.94" y="1302.97" width="30.74" height="34.01" fill="#3a9090"/>
<rect x="810.68" y="1302.97" width="30.74" height="34.01" fill="#30d4d4"/>
<rect x="841.42" y="1302.97" width="30.74" height="34.01" fill="#38a3a3"/>
<rect x="872.16" y="1302.97" width="30.74" height="34.01" fill="#33adad"/>
<rect x="902.9" y="1302.97" width="30.74" height="34.01" fill="#3a5757"/>
<rect x="933.64" y="1302.97" width="30.74" height="34.01" fill="#30d4d4"/>
<rect x="964.38" y="1302.97" width="61.48" height="34.01" fill="#33bebe"/>
<rect x="1025.85" y="1302.97" width="30.74" height="34.01" fill="#33fafa"/>
<rect x="1056.59" y="1302.97" width="30.74" height="34.01" fill="#424242"/>
<rect x="1087.33" y="1302.97" width="30.74" height="34.01" fill="#3a8080"/>
<rect x="1118.07" y="1302.97" width="30.74" height="34.01" fill="#3a6666"/>
<rect x="1148.81" y="1302.97" width="30.74" height="34.01" fill="#30d4d4"/>
<rect x="1179.55" y="1302.97" width="30.74" height="34.01" fill="#912020"/>
<rect x="1210.29" y="1302.97" width="30.74" height="34.01" fill="#30d4d4"/>
<rect x="1241.03" y="1302.97" width="15.37" height="34.01" fill="#3a9090"/>
<rect x="88.3" y="1336.98" width="15.37" height="34.01" fill="#33adad"/>
<rect x="103.67" y="1336.98" width="30.74" height="34.01" fill="#424242"/>
<rect x="134.41" y="1336.98" width="30.74" height="34.01" fill="#33bebe"/>
<rect x="165.15" y="1336.98" width="30.74" height="34.01" fill="#6c2d2d"/>
<rect x="195.89" y="1336.98" width="30.74" height="34.01" fill="#30d4d4"/>
<rect x="226.63" y="1336.98" width="30.74" height="34.01" fill="#3a9090"/>
<rect x="257.37" y="1336.98" width="30.74" height="34.01" fill="#33fafa"/>
<rect x="288.11" y="1336.98" width="30.74" height="34.01" fill="#30d4d4"/>
<rect x="318.85" y="1336.98" width="30.74" height="34.01" fill="#33adad"/>
<rect x="349.59" y="1336.98" width="30.74" height="34.01" fill="#38a3a3"/>
<rect x="380.33" y="1336.98" width="30.74" height="34.01" fill="#3b4a4a"/>
<rect x="411.06" y="1336.98" width="30.74" height="34.01" fill="#33bebe"/>
<rect x="441.8" y="1336.98" width="30.74" height="34.01" fill="#38a3a3"/>
<rect x="472.54" y="1336.98" width="30.74" height="34.01" fill="#30d4d4"/>
<rect x="503.28" y="1336.98" width="30.74" height="34.01" fill="#3a6666"/>
<rect x="534.02" y="1336.98" width="30.74" height="34.01" fill="#33bebe"/>
<rect x="564.76" y="1336.98" width="30.74" height="34.01" fill="#822828"/>
<rect x="595.5" y="1336.98" width="30.74" height="34.01" fill="#4a3838"/>
<rect x="626.24" y="1336.98" width="30.74" height="34.01" fill="#3a5757"/>
<rect x="656.98" y="1336.98" width="30.74" height="34.01" fill="#33fafa"/>
<rect x="687.72" y="1336.98" width="30.74" height="34.01" fill="#38a3a3"/>
<rect x="718.46" y="1336.98" width="30.74" height="34.01" fill="#3a5757"/>
<rect x="749.2" y="1336.98" width="30.74" height="34.01" fill="#38a3a3"/>
<rect x="779.94" y="1336.98" width="30.74" height="34.01" fill="#3a9090"/>
<rect x="810.68" y="1336.98" width="30.74" height="34.01" fill="#33fafa"/>
<rect x="841.42" y="1336.98" width="30.74" height="34.01" fill="#3a5757"/>
<rect x="872.16" y="1336.98" width="30.74" height="34.01" fill="#3b4a4a"/>
<rect x="902.9" y="1336.98" width="30.74" height="34.01" fill="#3a9090"/>
<rect x="933.64" y="1336.98" width="61.48" height="34.01" fill="#3a6666"/>
<rect x="995.11" y="1336.98" width="30.74" height="34.01" fill="#33fafa"/>
<rect x="1025.85" y="1336.98" width="30.74" height="34.01" fill="#3a7070"/>
<rect x="1056.59" y="1336.98" width="30.74" height="34.01" fill="#3a8080"/>
<rect x="1087.33" y="1336.98" width="30.74" height="34.01" fill="#822828"/>
<rect x="1118.07" y="1336.98" width="30.74" height="34.01" fill="#3a6666"/>
<rect x="1148.81" y="1336.98" width="30.74" height="34.01" fill="#30d4d4"/>
<rect x="1179.55" y="1336.98" width="30.74" height="34.01" fill="#30e8e8"/>
<rect x="1210.29" y="1336.98" width="30.74" height="34.01" fill="#424242"/>
<rect x="1241.03" y="1336.98" width="15.37" height="34.01" fill="#38a3a3"/>
<rect x="88.3" y="1370.99" width="15.37" height="34.01" fill="#38a3a3"/>
<rect x="103.67" y="1370.99" width="30.74" height="34.01" fill="#424242"/>
<rect x="134.41" y="1370.99" width="30.74" height="34.01" fill="#5a3030"/>
<rect x="165.15" y="1370.99" width="30.74" height="34.01" fill="#be1212"/>
<rect x="195.89" y="1370.99" width="30.74" height="34.01" fill="#33adad"/>
<rect x="226.63" y="1370.99" width="30.74" height="34.01" fill="#4a3838"/>
<rect x="257.37" y="1370.99" width="30.74" height="34.01" fill="#3a7070"/>
<rect x="288.11" y="1370.99" width="30.74" height="34.01" fill="#33adad"/>
<rect x="318.85" y="1370.99" width="30.74" height="34.01" fill="#3a8080"/>
<rect x="349.59" y="1370.99" width="30.74" height="34.01" fill="#3a9090"/>
<rect x="380.33" y="1370.99" width="30.74" height="34.01" fill="#a81a1a"/>
<rect x="411.06" y="1370.99" width="30.74" height="34.01" fill="#33adad"/>
<rect x="441.8" y="1370.99" width="30.74" height="34.01" fill="#5a3030"/>
<rect x="472.54" y="1370.99" width="30.74" height="34.01" fill="#3a6666"/>
<rect x="503.28" y="1370.99" width="30.74" height="34.01" fill="#38a3a3"/>
<rect x="534.02" y="1370.99" width="30.74" height="34.01" fill="#3a5757"/>
<rect x="564.76" y="1370.99" width="30.74" height="34.01" fill="#33bebe"/>
<rect x="595.5" y="1370.99" width="30.74" height="34.01" fill="#3a8080"/>
<rect x="626.24" y="1370.99" width="30.74" height="34.01" fill="#3a6666"/>
<rect x="656.98" y="1370.99" width="30.74" height="34.01" fill="#30d4d4"/>
<rect x="687.72" y="1370.99" width="30.74" height="34.01" fill="#3a9090"/>
<rect x="718.46" y="1370.99" width="30.74" height="34.01" fill="#3a6666"/>
<rect x="749.2" y="1370.99" width="30.74" height="34.01" fill="#33bebe"/>
<rect x="779.94" y="1370.99" width="30.74" height="34.01" fill="#33adad"/>
<rect x="810.68" y="1370.99" width="30.74" height="34.01" fill="#33bebe"/>
<rect x="841.42" y="1370.99" width="30.74" height="34.01" fill="#30d4d4"/>
<rect x="872.16" y="1370.99" width="30.74" height="34.01" fill="#3a5757"/>
<rect x="902.9" y="1370.99" width="30.74" height="34.01" fill="#38a3a3"/>
<rect x="933.64" y="1370.99" width="30.74" height="34.01" fill="#424242"/>
<rect x="964.38" y="1370.99" width="61.48" height="34.01" fill="#30e8e8"/>
<rect x="1025.85" y="1370.99" width="61.48" height="34.01" fill="#33adad"/>
<rect x="1087.33" y="1370.99" width="30.74" height="34.01" fill="#30d4d4"/>
<rect x="1118.07" y="1370.99" width="61.48" height="34.01" fill="#33adad"/>
<rect x="1179.55" y="1370.99" width="30.74" height="34.01" fill="#33bebe"/>
<rect x="1210.29" y="1370.99" width="30.74" height="34.01" fill="#30d4d4"/>
<rect x="1241.03" y="1370.99" width="15.37" height="34.01" fill="#30e8e8"/>
<rect x="88.3" y="1405" width="15.37" height="17" fill="#3a8080"/>
<rect x="103.67" y="1405" width="61.48" height="17" fill="#30d4d4"/>
<rect x="165.15" y="1405" width="30.74" height="17" fill="#3a6666"/>
<rect x="195.89" y="1405" width="30.74" height="17" fill="#33bebe"/>
<rect x="226.63" y="1405" width="30.74" height="17" fill="#33adad"/>
<rect x="257.37" y="1405" width="61.48" height="17" fill="#30d4d4"/>
<rect x="318.85" y="1405" width="30.74" height="17" fill="#33bebe"/>
<rect x="349.59" y="1405" width="30.74" height="17" fill="#4a3838"/>
<rect x="380.33" y="1405" width="30.74" height="17" fill="#5a3030"/>
<rect x="411.06" y="1405" width="30.74" height="17" fill="#3a8080"/>
<rect x="441.8" y="1405" width="30.74" height="17" fill="#3a5757"/>
<rect x="472.54" y="1405" width="30.74" height="17" fill="#3a7070"/>
<rect x="503.28" y="1405" width="30.74" height="17" fill="#30d4d4"/>
<rect x="534.02" y="1405" width="30.74" height="17" fill="#424242"/>
<rect x="564.76" y="1405" width="30.74" height="17" fill="#33bebe"/>
<rect x="595.5" y="1405" width="30.74" height="17" fill="#424242"/>
<rect x="626.24" y="1405" width="30.74" height="17" fill="#3a9090"/>
<rect x="656.98" y="1405" width="30.74" height="17" fill="#33adad"/>
<rect x="687.72" y="1405" width="30.74" height="17" fill="#30d4d4"/>
<rect x="718.46" y="1405" width="30.74" height="17" fill="#3a5757"/>
<rect x="749.2" y="1405" width="30.74" height="17" fill="#3a9090"/>
<rect x="779.94" y="1405" width="61.48" height="17" fill="#3a7070"/>
<rect x="841.42" y="1405" width="30.74" height="17" fill="#33bebe"/>
<rect x="872.16" y="1405" width="30.74" height="17" fill="#30d4d4"/>
<rect x="902.9" y="1405" width="30.74" height="17" fill="#3a8080"/>
<rect x="933.64" y="1405" width="30.74" height="17" fill="#3a7070"/>
<rect x="964.38" y="1405" width="30.74" height="17" fill="#30d4d4"/>
<rect x="995.11" y="1405" width="30.74" height="17" fill="#be1212"/>
<rect x="1025.85" y="1405" width="30.74" height="17" fill="#30d4d4"/>
<rect x="1056.59" y="1405" width="30.74" height="17" fill="#3a5757"/>
<rect x="1087.33" y="1405" width="30.74" height="17" fill="#33bebe"/>
<rect x="1118.07" y="1405" width="30.74" height="17" fill="#30e8e8"/>
<rect x="1148.81" y="1405" width="30.74" height="17" fill="#3a9090"/>
<rect x="1179.55" y="1405" width="30.74" height="17" fill="#4a3838"/>
<rect x="1210.29" y="1405" width="30.74" height="17" fill="#38a3a3"/>
<rect x="1241.03" y="1405" width="15.37" height="17" fill="#912020"/>
</g>
<rect x="88.3" y="1047.9" width="1168.1" height="374.1" fill="none" stroke="#000" stroke-width="2.3"/>
<text x="64.5" y="1056.5" font-size="28.5" text-anchor="end">12</text>
<text x="64.5" y="1090.51" font-size="28.5" text-anchor="end">11</text>
<text x="64.5" y="1124.52" font-size="28.5" text-anchor="end">10</text>
<text x="64.5" y="1158.53" font-size="28.5" text-anchor="end">9</text>
<text x="64.5" y="1192.54" font-size="28.5" text-anchor="end">8</text>
<text x="64.5" y="1226.55" font-size="28.5" text-anchor="end">7</text>
<text x="64.5" y="1260.55" font-size="28.5" text-anchor="end">6</text>
<text x="64.5" y="1294.56" font-size="28.5" text-anchor="end">5</text>
<text x="64.5" y="1328.57" font-size="28.5" text-anchor="end">4</text>
<text x="64.5" y="1362.58" font-size="28.5" text-anchor="end">3</text>
<text x="64.5" y="1396.59" font-size="28.5" text-anchor="end">2</text>
<text x="64.5" y="1430.6" font-size="28.5" text-anchor="end">1</text>
<line x1="88.3" y1="1422" x2="88.3" y2="1434.3" stroke="#000" stroke-width="2.2"/>
<line x1="119.04" y1="1422" x2="119.04" y2="1434.3" stroke="#000" stroke-width="2.2"/>
<line x1="149.78" y1="1422" x2="149.78" y2="1434.3" stroke="#000" stroke-width="2.2"/>
<line x1="180.52" y1="1422" x2="180.52" y2="1434.3" stroke="#000" stroke-width="2.2"/>
<line x1="211.26" y1="1422" x2="211.26" y2="1434.3" stroke="#000" stroke-width="2.2"/>
<line x1="242" y1="1422" x2="242" y2="1434.3" stroke="#000" stroke-width="2.2"/>
<line x1="272.74" y1="1422" x2="272.74" y2="1434.3" stroke="#000" stroke-width="2.2"/>
<line x1="303.48" y1="1422" x2="303.48" y2="1434.3" stroke="#000" stroke-width="2.2"/>
<line x1="334.22" y1="1422" x2="334.22" y2="1434.3" stroke="#000" stroke-width="2.2"/>
<line x1="364.96" y1="1422" x2="364.96" y2="1434.3" stroke="#000" stroke-width="2.2"/>
<line x1="395.69" y1="1422" x2="395.69" y2="1434.3" stroke="#000" stroke-width="2.2"/>
<line x1="426.43" y1="1422" x2="426.43" y2="1434.3" stroke="#000" stroke-width="2.2"/>
<line x1="457.17" y1="1422" x2="457.17" y2="1434.3" stroke="#000" stroke-width="2.2"/>
<line x1="487.91" y1="1422" x2="487.91" y2="1434.3" stroke="#000" stroke-width="2.2"/>
<line x1="518.65" y1="1422" x2="518.65" y2="1434.3" stroke="#000" stroke-width="2.2"/>
<line x1="549.39" y1="1422" x2="549.39" y2="1434.3" stroke="#000" stroke-width="2.2"/>
<line x1="580.13" y1="1422" x2="580.13" y2="1434.3" stroke="#000" stroke-width="2.2"/>
<line x1="610.87" y1="1422" x2="610.87" y2="1434.3" stroke="#000" stroke-width="2.2"/>
<line x1="641.61" y1="1422" x2="641.61" y2="1434.3" stroke="#000" stroke-width="2.2"/>
<line x1="672.35" y1="1422" x2="672.35" y2="1434.3" stroke="#000" stroke-width="2.2"/>
<line x1="703.09" y1="1422" x2="703.09" y2="1434.3" stroke="#000" stroke-width="2.2"/>
<line x1="733.83" y1="1422" x2="733.83" y2="1434.3" stroke="#000" stroke-width="2.2"/>
<line x1="764.57" y1="1422" x2="764.57" y2="1434.3" stroke="#000" stroke-width="2.2"/>
<line x1="795.31" y1="1422" x2="795.31" y2="1434.3" stroke="#000" stroke-width="2.2"/>
<line x1="826.05" y1="1422" x2="826.05" y2="1434.3" stroke="#000" stroke-width="2.2"/>
<line x1="856.79" y1="1422" x2="856.79" y2="1434.3" stroke="#000" stroke-width="2.2"/>
<line x1="887.53" y1="1422" x2="887.53" y2="1434.3" stroke="#000" stroke-width="2.2"/>
<line x1="918.27" y1="1422" x2="918.27" y2="1434.3" stroke="#000" stroke-width="2.2"/>
<line x1="949.01" y1="1422" x2="949.01" y2="1434.3" stroke="#000" stroke-width="2.2"/>
<line x1="979.74" y1="1422" x2="979.74" y2="1434.3" stroke="#000" stroke-width="2.2"/>
<line x1="1010.48" y1="1422" x2="1010.48" y2="1434.3" stroke="#000" stroke-width="2.2"/>
<line x1="1041.22" y1="1422" x2="1041.22" y2="1434.3" stroke="#000" stroke-width="2.2"/>
<line x1="1071.96" y1="1422" x2="1071.96" y2="1434.3" stroke="#000" stroke-width="2.2"/>
<line x1="1102.7" y1="1422" x2="1102.7" y2="1434.3" stroke="#000" stroke-width="2.2"/>
<line x1="1133.44" y1="1422" x2="1133.44" y2="1434.3" stroke="#000" stroke-width="2.2"/>
<line x1="1164.18" y1="1422" x2="1164.18" y2="1434.3" stroke="#000" stroke-width="2.2"/>
<line x1="1194.92" y1="1422" x2="1194.92" y2="1434.3" stroke="#000" stroke-width="2.2"/>
<text x="98.2" y="1477" font-size="28.5" text-anchor="middle">1980</text>
<text x="249.2" y="1477" font-size="28.5" text-anchor="middle">1985</text>
<text x="399.5" y="1477" font-size="28.5" text-anchor="middle">1990</text>
<text x="549.3" y="1477" font-size="28.5" text-anchor="middle">1995</text>
<text x="702.3" y="1477" font-size="28.5" text-anchor="middle">2000</text>
<text x="851.9" y="1477" font-size="28.5" text-anchor="middle">2005</text>
<text x="1007.1" y="1477" font-size="28.5" text-anchor="middle">2010</text>
<text x="1154.9" y="1477" font-size="28.5" text-anchor="middle">2015</text>
<text x="1246" y="1477" font-size="28.5" text-anchor="middle">2018</text>
<text x="705" y="1520" font-size="41" text-anchor="middle">year</text>
<text x="703.9" y="1550.8" font-size="34" text-anchor="middle">(c)</text>
<text transform="translate(36,1266.5) rotate(-90)" font-size="40" text-anchor="middle">month</text>
<g shape-rendering="crispEdges">
<rect x="1285.6" y="1405.16" width="46.5" height="12.24" fill="#33ffff"/>
<rect x="1285.6" y="1392.93" width="46.5" height="12.24" fill="#33f6f6"/>
<rect x="1285.6" y="1380.69" width="46.5" height="12.24" fill="#30e4e4"/>
<rect x="1285.6" y="1368.45" width="46.5" height="12.24" fill="#30d4d4"/>
<rect x="1285.6" y="1356.22" width="46.5" height="12.24" fill="#30cccc"/>
<rect x="1285.6" y="1343.98" width="46.5" height="12.24" fill="#30b8b8"/>
<rect x="1285.6" y="1331.74" width="46.5" height="12.24" fill="#33a8a8"/>
<rect x="1285.6" y="1319.51" width="46.5" height="12.24" fill="#38a0a0"/>
<rect x="1285.6" y="1307.27" width="46.5" height="12.24" fill="#3a8a8a"/>
<rect x="1285.6" y="1295.03" width="46.5" height="12.24" fill="#3a8080"/>
<rect x="1285.6" y="1282.8" width="46.5" height="12.24" fill="#3a7070"/>
<rect x="1285.6" y="1270.56" width="46.5" height="12.24" fill="#3a6a6a"/>
<rect x="1285.6" y="1258.32" width="46.5" height="12.24" fill="#3a5858"/>
<rect x="1285.6" y="1246.09" width="46.5" height="12.24" fill="#3a4a4a"/>
<rect x="1285.6" y="1233.85" width="46.5" height="12.24" fill="#424242"/>
<rect x="1285.6" y="1221.61" width="46.5" height="12.24" fill="#424242"/>
<rect x="1285.6" y="1209.38" width="46.5" height="12.24" fill="#483838"/>
<rect x="1285.6" y="1197.14" width="46.5" height="12.24" fill="#553030"/>
<rect x="1285.6" y="1184.9" width="46.5" height="12.24" fill="#6a3030"/>
<rect x="1285.6" y="1172.67" width="46.5" height="12.24" fill="#702828"/>
<rect x="1285.6" y="1160.43" width="46.5" height="12.24" fill="#852828"/>
<rect x="1285.6" y="1148.19" width="46.5" height="12.24" fill="#902020"/>
<rect x="1285.6" y="1135.96" width="46.5" height="12.24" fill="#a02020"/>
<rect x="1285.6" y="1123.72" width="46.5" height="12.24" fill="#a81a1a"/>
<rect x="1285.6" y="1111.48" width="46.5" height="12.24" fill="#bb1212"/>
<rect x="1285.6" y="1099.25" width="46.5" height="12.24" fill="#cc1010"/>
<rect x="1285.6" y="1087.01" width="46.5" height="12.24" fill="#d40808"/>
<rect x="1285.6" y="1074.77" width="46.5" height="12.24" fill="#e40808"/>
<rect x="1285.6" y="1062.54" width="46.5" height="12.24" fill="#f20000"/>
<rect x="1285.6" y="1050.3" width="46.5" height="12.24" fill="#ff0000"/>
</g>
<rect x="1285.6" y="1050.3" width="46.5" height="367.1" rx="1.5" fill="none" stroke="#000" stroke-width="3"/>
<text x="1354" y="1056.1" font-size="19.5" text-anchor="start">4.000</text>
<text x="1354" y="1130.1" font-size="19.5" text-anchor="start">2.852</text>
<text x="1354" y="1204" font-size="19.5" text-anchor="start">1.704</text>
<text x="1354" y="1277.9" font-size="19.5" text-anchor="start">0.5560</text>
<text x="1354" y="1351.8" font-size="19.5" text-anchor="start">-0.5920</text>
<text x="1354" y="1425.8" font-size="19.5" text-anchor="start">-1.740</text>
</svg>
</body></html>
